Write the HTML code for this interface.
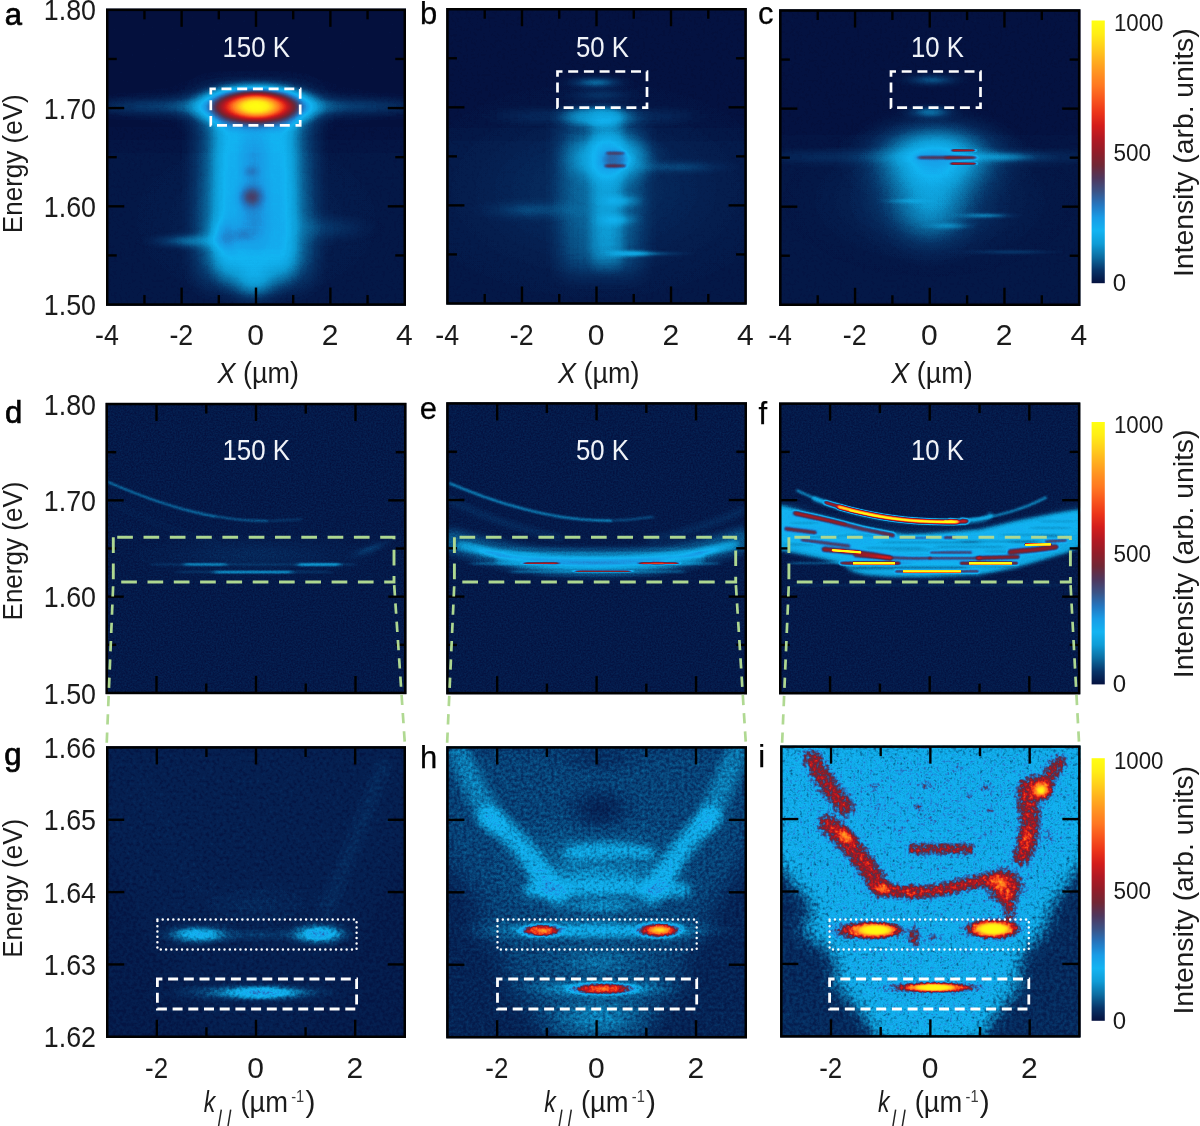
<!DOCTYPE html>
<html><head><meta charset="utf-8"><title>figure</title>
<style>html,body{margin:0;padding:0;background:#fff}svg{display:block}text{font-family:"Liberation Sans",sans-serif;fill:#1a1a1a}</style></head><body>
<svg width="1200" height="1126" viewBox="0 0 1200 1126">
<defs>
<radialGradient id="g"><stop offset="0" stop-color="#fff" stop-opacity="1.0000"/><stop offset="0.05" stop-color="#fff" stop-opacity="0.9883"/><stop offset="0.1" stop-color="#fff" stop-opacity="0.9549"/><stop offset="0.15" stop-color="#fff" stop-opacity="0.9020"/><stop offset="0.2" stop-color="#fff" stop-opacity="0.8331"/><stop offset="0.25" stop-color="#fff" stop-opacity="0.7521"/><stop offset="0.3" stop-color="#fff" stop-opacity="0.6636"/><stop offset="0.35" stop-color="#fff" stop-opacity="0.5723"/><stop offset="0.4" stop-color="#fff" stop-opacity="0.4823"/><stop offset="0.45" stop-color="#fff" stop-opacity="0.3970"/><stop offset="0.5" stop-color="#fff" stop-opacity="0.3191"/><stop offset="0.55" stop-color="#fff" stop-opacity="0.2502"/><stop offset="0.6" stop-color="#fff" stop-opacity="0.1912"/><stop offset="0.65" stop-color="#fff" stop-opacity="0.1422"/><stop offset="0.7" stop-color="#fff" stop-opacity="0.1025"/><stop offset="0.75" stop-color="#fff" stop-opacity="0.0712"/><stop offset="0.8" stop-color="#fff" stop-opacity="0.0473"/><stop offset="0.85" stop-color="#fff" stop-opacity="0.0293"/><stop offset="0.9" stop-color="#fff" stop-opacity="0.0161"/><stop offset="0.95" stop-color="#fff" stop-opacity="0.0067"/><stop offset="1" stop-color="#fff" stop-opacity="0.0000"/></radialGradient>
<radialGradient id="k"><stop offset="0" stop-color="#000" stop-opacity="1.0000"/><stop offset="0.05" stop-color="#000" stop-opacity="0.9883"/><stop offset="0.1" stop-color="#000" stop-opacity="0.9549"/><stop offset="0.15" stop-color="#000" stop-opacity="0.9020"/><stop offset="0.2" stop-color="#000" stop-opacity="0.8331"/><stop offset="0.25" stop-color="#000" stop-opacity="0.7521"/><stop offset="0.3" stop-color="#000" stop-opacity="0.6636"/><stop offset="0.35" stop-color="#000" stop-opacity="0.5723"/><stop offset="0.4" stop-color="#000" stop-opacity="0.4823"/><stop offset="0.45" stop-color="#000" stop-opacity="0.3970"/><stop offset="0.5" stop-color="#000" stop-opacity="0.3191"/><stop offset="0.55" stop-color="#000" stop-opacity="0.2502"/><stop offset="0.6" stop-color="#000" stop-opacity="0.1912"/><stop offset="0.65" stop-color="#000" stop-opacity="0.1422"/><stop offset="0.7" stop-color="#000" stop-opacity="0.1025"/><stop offset="0.75" stop-color="#000" stop-opacity="0.0712"/><stop offset="0.8" stop-color="#000" stop-opacity="0.0473"/><stop offset="0.85" stop-color="#000" stop-opacity="0.0293"/><stop offset="0.9" stop-color="#000" stop-opacity="0.0161"/><stop offset="0.95" stop-color="#000" stop-opacity="0.0067"/><stop offset="1" stop-color="#000" stop-opacity="0.0000"/></radialGradient>
<radialGradient id="p"><stop offset="0" stop-color="#fff" stop-opacity="1.0000"/><stop offset="0.05" stop-color="#fff" stop-opacity="0.9964"/><stop offset="0.1" stop-color="#fff" stop-opacity="0.9927"/><stop offset="0.15" stop-color="#fff" stop-opacity="0.9882"/><stop offset="0.2" stop-color="#fff" stop-opacity="0.9815"/><stop offset="0.25" stop-color="#fff" stop-opacity="0.9696"/><stop offset="0.3" stop-color="#fff" stop-opacity="0.9481"/><stop offset="0.35" stop-color="#fff" stop-opacity="0.9115"/><stop offset="0.4" stop-color="#fff" stop-opacity="0.8548"/><stop offset="0.45" stop-color="#fff" stop-opacity="0.7758"/><stop offset="0.5" stop-color="#fff" stop-opacity="0.6773"/><stop offset="0.55" stop-color="#fff" stop-opacity="0.5675"/><stop offset="0.6" stop-color="#fff" stop-opacity="0.4568"/><stop offset="0.65" stop-color="#fff" stop-opacity="0.3545"/><stop offset="0.7" stop-color="#fff" stop-opacity="0.2659"/><stop offset="0.75" stop-color="#fff" stop-opacity="0.1928"/><stop offset="0.8" stop-color="#fff" stop-opacity="0.1342"/><stop offset="0.85" stop-color="#fff" stop-opacity="0.0879"/><stop offset="0.9" stop-color="#fff" stop-opacity="0.0516"/><stop offset="0.95" stop-color="#fff" stop-opacity="0.0229"/><stop offset="1" stop-color="#fff" stop-opacity="0.0000"/></radialGradient>
<filter id="cm0" x="0" y="0" width="1" height="1" color-interpolation-filters="sRGB"><feComponentTransfer><feFuncR type="table" tableValues="0.016 0.027 0.043 0.055 0.071 0.094 0.141 0.227 0.306 0.439 0.573 0.698 0.831 0.925 0.973 1.000 1.000 1.000 1.000 1.000 1.000"/><feFuncG type="table" tableValues="0.063 0.204 0.424 0.612 0.706 0.612 0.455 0.322 0.212 0.149 0.110 0.094 0.110 0.204 0.329 0.463 0.573 0.690 0.816 0.933 1.000"/><feFuncB type="table" tableValues="0.243 0.408 0.635 0.839 0.949 0.902 0.745 0.525 0.361 0.204 0.157 0.133 0.102 0.094 0.110 0.125 0.125 0.118 0.102 0.078 0.063"/></feComponentTransfer></filter>
<filter id="cm1" x="0" y="0" width="1" height="1" color-interpolation-filters="sRGB"><feTurbulence type="fractalNoise" baseFrequency="0.35" numOctaves="2" seed="3" result="t"/><feColorMatrix in="t" type="matrix" values="1 0 0 0 0  1 0 0 0 0  1 0 0 0 0  0 0 0 0 1" result="n"/><feComposite in="SourceGraphic" in2="n" operator="arithmetic" k1="0" k2="1" k3="0.01" k4="-0.0060" result="m"/><feComponentTransfer in="m"><feFuncR type="table" tableValues="0.016 0.027 0.043 0.055 0.071 0.094 0.141 0.227 0.306 0.439 0.573 0.698 0.831 0.925 0.973 1.000 1.000 1.000 1.000 1.000 1.000"/><feFuncG type="table" tableValues="0.063 0.204 0.424 0.612 0.706 0.612 0.455 0.322 0.212 0.149 0.110 0.094 0.110 0.204 0.329 0.463 0.573 0.690 0.816 0.933 1.000"/><feFuncB type="table" tableValues="0.243 0.408 0.635 0.839 0.949 0.902 0.745 0.525 0.361 0.204 0.157 0.133 0.102 0.094 0.110 0.125 0.125 0.118 0.102 0.078 0.063"/></feComponentTransfer></filter>
<filter id="cm2" x="0" y="0" width="1" height="1" color-interpolation-filters="sRGB"><feTurbulence type="fractalNoise" baseFrequency="0.6" numOctaves="2" seed="5" result="t"/><feColorMatrix in="t" type="matrix" values="1 0 0 0 0  1 0 0 0 0  1 0 0 0 0  0 0 0 0 1" result="n"/><feComposite in="SourceGraphic" in2="n" operator="arithmetic" k1="0" k2="1" k3="0.04" k4="-0.0180" result="m"/><feComponentTransfer in="m"><feFuncR type="table" tableValues="0.016 0.027 0.043 0.055 0.071 0.094 0.141 0.227 0.306 0.439 0.573 0.698 0.831 0.925 0.973 1.000 1.000 1.000 1.000 1.000 1.000"/><feFuncG type="table" tableValues="0.063 0.204 0.424 0.612 0.706 0.612 0.455 0.322 0.212 0.149 0.110 0.094 0.110 0.204 0.329 0.463 0.573 0.690 0.816 0.933 1.000"/><feFuncB type="table" tableValues="0.243 0.408 0.635 0.839 0.949 0.902 0.745 0.525 0.361 0.204 0.157 0.133 0.102 0.094 0.110 0.125 0.125 0.118 0.102 0.078 0.063"/></feComponentTransfer></filter>
<filter id="cmg" x="0" y="0" width="1" height="1" color-interpolation-filters="sRGB"><feTurbulence type="fractalNoise" baseFrequency="0.3" numOctaves="2" seed="7" result="t"/><feColorMatrix in="t" type="matrix" values="1 0 0 0 0  1 0 0 0 0  1 0 0 0 0  0 0 0 0 1" result="n"/><feComponentTransfer in="SourceGraphic" result="w"><feFuncR type="table" tableValues="0.03 0.14 0.27 0.36 0.42 0.45 0.42 0.3 0.15 0.04 0"/><feFuncG type="table" tableValues="0.03 0.14 0.27 0.36 0.42 0.45 0.42 0.3 0.15 0.04 0"/><feFuncB type="table" tableValues="0.03 0.14 0.27 0.36 0.42 0.45 0.42 0.3 0.15 0.04 0"/></feComponentTransfer><feComposite in="w" in2="n" operator="arithmetic" k1="1" k2="0" k3="0" k4="0" result="p"/><feComposite in="SourceGraphic" in2="w" operator="arithmetic" k1="0" k2="1" k3="-0.4" k4="0" result="q"/><feComposite in="q" in2="p" operator="arithmetic" k1="0" k2="1" k3="0.8" k4="0" result="m"/><feComponentTransfer in="m"><feFuncR type="table" tableValues="0.016 0.027 0.043 0.055 0.071 0.094 0.141 0.227 0.306 0.439 0.573 0.698 0.831 0.925 0.973 1.000 1.000 1.000 1.000 1.000 1.000"/><feFuncG type="table" tableValues="0.063 0.204 0.424 0.612 0.706 0.612 0.455 0.322 0.212 0.149 0.110 0.094 0.110 0.204 0.329 0.463 0.573 0.690 0.816 0.933 1.000"/><feFuncB type="table" tableValues="0.243 0.408 0.635 0.839 0.949 0.902 0.745 0.525 0.361 0.204 0.157 0.133 0.102 0.094 0.110 0.125 0.125 0.118 0.102 0.078 0.063"/></feComponentTransfer></filter>
<filter id="cmh" x="0" y="0" width="1" height="1" color-interpolation-filters="sRGB"><feTurbulence type="fractalNoise" baseFrequency="0.33" numOctaves="2" seed="11" result="t"/><feColorMatrix in="t" type="matrix" values="1 0 0 0 0  1 0 0 0 0  1 0 0 0 0  0 0 0 0 1" result="n"/><feComponentTransfer in="SourceGraphic" result="w"><feFuncR type="table" tableValues="0.04 0.13 0.27 0.36 0.42 0.45 0.42 0.3 0.15 0.04 0"/><feFuncG type="table" tableValues="0.04 0.13 0.27 0.36 0.42 0.45 0.42 0.3 0.15 0.04 0"/><feFuncB type="table" tableValues="0.04 0.13 0.27 0.36 0.42 0.45 0.42 0.3 0.15 0.04 0"/></feComponentTransfer><feComposite in="w" in2="n" operator="arithmetic" k1="1" k2="0" k3="0" k4="0" result="p"/><feComposite in="SourceGraphic" in2="w" operator="arithmetic" k1="0" k2="1" k3="-0.45" k4="0" result="q"/><feComposite in="q" in2="p" operator="arithmetic" k1="0" k2="1" k3="0.9" k4="0" result="m"/><feComponentTransfer in="m"><feFuncR type="table" tableValues="0.016 0.027 0.043 0.055 0.071 0.094 0.141 0.227 0.306 0.439 0.573 0.698 0.831 0.925 0.973 1.000 1.000 1.000 1.000 1.000 1.000"/><feFuncG type="table" tableValues="0.063 0.204 0.424 0.612 0.706 0.612 0.455 0.322 0.212 0.149 0.110 0.094 0.110 0.204 0.329 0.463 0.573 0.690 0.816 0.933 1.000"/><feFuncB type="table" tableValues="0.243 0.408 0.635 0.839 0.949 0.902 0.745 0.525 0.361 0.204 0.157 0.133 0.102 0.094 0.110 0.125 0.125 0.118 0.102 0.078 0.063"/></feComponentTransfer></filter>
<filter id="cmi" x="0" y="0" width="1" height="1" color-interpolation-filters="sRGB"><feTurbulence type="fractalNoise" baseFrequency="0.3" numOctaves="2" seed="13" result="t"/><feColorMatrix in="t" type="matrix" values="1 0 0 0 0  1 0 0 0 0  1 0 0 0 0  0 0 0 0 1" result="n"/><feComponentTransfer in="SourceGraphic" result="w"><feFuncR type="table" tableValues="0.04 0.13 0.27 0.36 0.42 0.45 0.42 0.3 0.15 0.04 0"/><feFuncG type="table" tableValues="0.04 0.13 0.27 0.36 0.42 0.45 0.42 0.3 0.15 0.04 0"/><feFuncB type="table" tableValues="0.04 0.13 0.27 0.36 0.42 0.45 0.42 0.3 0.15 0.04 0"/></feComponentTransfer><feComposite in="w" in2="n" operator="arithmetic" k1="1" k2="0" k3="0" k4="0" result="p"/><feComposite in="SourceGraphic" in2="w" operator="arithmetic" k1="0" k2="1" k3="-0.6" k4="0" result="q"/><feComposite in="q" in2="p" operator="arithmetic" k1="0" k2="1" k3="1.2" k4="0" result="m"/><feComponentTransfer in="m"><feFuncR type="table" tableValues="0.016 0.027 0.043 0.055 0.071 0.094 0.141 0.227 0.306 0.439 0.573 0.698 0.831 0.925 0.973 1.000 1.000 1.000 1.000 1.000 1.000"/><feFuncG type="table" tableValues="0.063 0.204 0.424 0.612 0.706 0.612 0.455 0.322 0.212 0.149 0.110 0.094 0.110 0.204 0.329 0.463 0.573 0.690 0.816 0.933 1.000"/><feFuncB type="table" tableValues="0.243 0.408 0.635 0.839 0.949 0.902 0.745 0.525 0.361 0.204 0.157 0.133 0.102 0.094 0.110 0.125 0.125 0.118 0.102 0.078 0.063"/></feComponentTransfer></filter>
<filter id="b1" filterUnits="userSpaceOnUse" x="0" y="0" width="1200" height="1126" color-interpolation-filters="sRGB"><feGaussianBlur stdDeviation="1 1"/></filter>
<filter id="b2" filterUnits="userSpaceOnUse" x="0" y="0" width="1200" height="1126" color-interpolation-filters="sRGB"><feGaussianBlur stdDeviation="2 2"/></filter>
<filter id="b3" filterUnits="userSpaceOnUse" x="0" y="0" width="1200" height="1126" color-interpolation-filters="sRGB"><feGaussianBlur stdDeviation="3 3"/></filter>
<filter id="b4" filterUnits="userSpaceOnUse" x="0" y="0" width="1200" height="1126" color-interpolation-filters="sRGB"><feGaussianBlur stdDeviation="4 4"/></filter>
<filter id="b6" filterUnits="userSpaceOnUse" x="0" y="0" width="1200" height="1126" color-interpolation-filters="sRGB"><feGaussianBlur stdDeviation="6 6"/></filter>
<filter id="b8" filterUnits="userSpaceOnUse" x="0" y="0" width="1200" height="1126" color-interpolation-filters="sRGB"><feGaussianBlur stdDeviation="8 8"/></filter>
<filter id="b12" filterUnits="userSpaceOnUse" x="0" y="0" width="1200" height="1126" color-interpolation-filters="sRGB"><feGaussianBlur stdDeviation="12 12"/></filter>
<filter id="bx" filterUnits="userSpaceOnUse" x="0" y="0" width="1200" height="1126" color-interpolation-filters="sRGB"><feGaussianBlur stdDeviation="6 1.2"/></filter>
<filter id="bx2" filterUnits="userSpaceOnUse" x="0" y="0" width="1200" height="1126" color-interpolation-filters="sRGB"><feGaussianBlur stdDeviation="10 2"/></filter>
<filter id="by" filterUnits="userSpaceOnUse" x="0" y="0" width="1200" height="1126" color-interpolation-filters="sRGB"><feGaussianBlur stdDeviation="3 8"/></filter>
<filter id="bxs" filterUnits="userSpaceOnUse" x="0" y="0" width="1200" height="1126" color-interpolation-filters="sRGB"><feGaussianBlur stdDeviation="3 0.8"/></filter>
<filter id="b16" filterUnits="userSpaceOnUse" x="0" y="0" width="1200" height="1126" color-interpolation-filters="sRGB"><feGaussianBlur stdDeviation="16 16"/></filter>
<filter id="bw" filterUnits="userSpaceOnUse" x="0" y="0" width="1200" height="1126" color-interpolation-filters="sRGB"><feGaussianBlur stdDeviation="14 4"/></filter>
<filter id="b5" filterUnits="userSpaceOnUse" x="0" y="0" width="1200" height="1126" color-interpolation-filters="sRGB"><feGaussianBlur stdDeviation="5 5"/></filter>
<filter id="bc" filterUnits="userSpaceOnUse" x="0" y="0" width="1200" height="1126" color-interpolation-filters="sRGB"><feGaussianBlur stdDeviation="2.5 10"/></filter>
<linearGradient id="cb" x1="0" y1="0" x2="0" y2="1"><stop offset="0" stop-color="rgb(255,255,16)"/><stop offset="0.05" stop-color="rgb(255,238,20)"/><stop offset="0.1" stop-color="rgb(255,208,26)"/><stop offset="0.15" stop-color="rgb(255,176,30)"/><stop offset="0.2" stop-color="rgb(255,146,32)"/><stop offset="0.25" stop-color="rgb(255,118,32)"/><stop offset="0.3" stop-color="rgb(248,84,28)"/><stop offset="0.35" stop-color="rgb(236,52,24)"/><stop offset="0.4" stop-color="rgb(212,28,26)"/><stop offset="0.45" stop-color="rgb(178,24,34)"/><stop offset="0.5" stop-color="rgb(146,28,40)"/><stop offset="0.55" stop-color="rgb(112,38,52)"/><stop offset="0.6" stop-color="rgb(78,54,92)"/><stop offset="0.65" stop-color="rgb(58,82,134)"/><stop offset="0.7" stop-color="rgb(36,116,190)"/><stop offset="0.75" stop-color="rgb(24,156,230)"/><stop offset="0.8" stop-color="rgb(18,180,242)"/><stop offset="0.85" stop-color="rgb(14,156,214)"/><stop offset="0.9" stop-color="rgb(11,108,162)"/><stop offset="0.95" stop-color="rgb(7,52,104)"/><stop offset="1" stop-color="rgb(4,16,62)"/></linearGradient>
<clipPath id="cpa"><rect x="106" y="8.6" width="300" height="297.2"/></clipPath>
<clipPath id="cpb"><rect x="446.2" y="8" width="300.6" height="296.7"/></clipPath>
<clipPath id="cpc"><rect x="779.1" y="9.3" width="301.3" height="296.7"/></clipPath>
<clipPath id="cpd"><rect x="105.5" y="402.8" width="301" height="291.4"/></clipPath>
<clipPath id="cpe"><rect x="446.2" y="402.2" width="300.8" height="292.2"/></clipPath>
<clipPath id="cpf"><rect x="779" y="402.4" width="301.4" height="292"/></clipPath>
<clipPath id="cpg"><rect x="106" y="746.2" width="300" height="291.8"/></clipPath>
<clipPath id="cph"><rect x="446.2" y="746.2" width="300.8" height="292.2"/></clipPath>
<clipPath id="cpi"><rect x="780.1" y="745.4" width="300.5" height="292.2"/></clipPath>
<filter id="B1_14" filterUnits="userSpaceOnUse" x="0" y="0" width="1200" height="1126" color-interpolation-filters="sRGB"><feGaussianBlur stdDeviation="1 14"/></filter><filter id="B24_4p5" filterUnits="userSpaceOnUse" x="0" y="0" width="1200" height="1126" color-interpolation-filters="sRGB"><feGaussianBlur stdDeviation="24 4.5"/></filter><filter id="B12_15" filterUnits="userSpaceOnUse" x="0" y="0" width="1200" height="1126" color-interpolation-filters="sRGB"><feGaussianBlur stdDeviation="12 15"/></filter><filter id="B7_13" filterUnits="userSpaceOnUse" x="0" y="0" width="1200" height="1126" color-interpolation-filters="sRGB"><feGaussianBlur stdDeviation="7 13"/></filter><filter id="B6_10" filterUnits="userSpaceOnUse" x="0" y="0" width="1200" height="1126" color-interpolation-filters="sRGB"><feGaussianBlur stdDeviation="6 10"/></filter><filter id="B20_5" filterUnits="userSpaceOnUse" x="0" y="0" width="1200" height="1126" color-interpolation-filters="sRGB"><feGaussianBlur stdDeviation="20 5"/></filter><filter id="B11_12" filterUnits="userSpaceOnUse" x="0" y="0" width="1200" height="1126" color-interpolation-filters="sRGB"><feGaussianBlur stdDeviation="11 12"/></filter><filter id="B1p5_0p8" filterUnits="userSpaceOnUse" x="0" y="0" width="1200" height="1126" color-interpolation-filters="sRGB"><feGaussianBlur stdDeviation="1.5 0.8"/></filter><filter id="B20_4" filterUnits="userSpaceOnUse" x="0" y="0" width="1200" height="1126" color-interpolation-filters="sRGB"><feGaussianBlur stdDeviation="20 4"/></filter><filter id="B2_0p8" filterUnits="userSpaceOnUse" x="0" y="0" width="1200" height="1126" color-interpolation-filters="sRGB"><feGaussianBlur stdDeviation="2 0.8"/></filter><filter id="B1p5_0p7" filterUnits="userSpaceOnUse" x="0" y="0" width="1200" height="1126" color-interpolation-filters="sRGB"><feGaussianBlur stdDeviation="1.5 0.7"/></filter><filter id="B1_1" filterUnits="userSpaceOnUse" x="0" y="0" width="1200" height="1126" color-interpolation-filters="sRGB"><feGaussianBlur stdDeviation="1 1"/></filter><filter id="B2_1" filterUnits="userSpaceOnUse" x="0" y="0" width="1200" height="1126" color-interpolation-filters="sRGB"><feGaussianBlur stdDeviation="2 1"/></filter><filter id="B3_3" filterUnits="userSpaceOnUse" x="0" y="0" width="1200" height="1126" color-interpolation-filters="sRGB"><feGaussianBlur stdDeviation="3 3"/></filter><filter id="B3_0p8" filterUnits="userSpaceOnUse" x="0" y="0" width="1200" height="1126" color-interpolation-filters="sRGB"><feGaussianBlur stdDeviation="3 0.8"/></filter><filter id="B4_4" filterUnits="userSpaceOnUse" x="0" y="0" width="1200" height="1126" color-interpolation-filters="sRGB"><feGaussianBlur stdDeviation="4 4"/></filter><filter id="B3_1p5" filterUnits="userSpaceOnUse" x="0" y="0" width="1200" height="1126" color-interpolation-filters="sRGB"><feGaussianBlur stdDeviation="3 1.5"/></filter><filter id="B2_2" filterUnits="userSpaceOnUse" x="0" y="0" width="1200" height="1126" color-interpolation-filters="sRGB"><feGaussianBlur stdDeviation="2 2"/></filter><filter id="B8_0p8" filterUnits="userSpaceOnUse" x="0" y="0" width="1200" height="1126" color-interpolation-filters="sRGB"><feGaussianBlur stdDeviation="8 0.8"/></filter><filter id="B2_0p7" filterUnits="userSpaceOnUse" x="0" y="0" width="1200" height="1126" color-interpolation-filters="sRGB"><feGaussianBlur stdDeviation="2 0.7"/></filter><filter id="B2p5_2" filterUnits="userSpaceOnUse" x="0" y="0" width="1200" height="1126" color-interpolation-filters="sRGB"><feGaussianBlur stdDeviation="2.5 2"/></filter><filter id="B5_5" filterUnits="userSpaceOnUse" x="0" y="0" width="1200" height="1126" color-interpolation-filters="sRGB"><feGaussianBlur stdDeviation="5 5"/></filter><filter id="B1p6_1p6" filterUnits="userSpaceOnUse" x="0" y="0" width="1200" height="1126" color-interpolation-filters="sRGB"><feGaussianBlur stdDeviation="1.6 1.6"/></filter><filter id="B4_0p8" filterUnits="userSpaceOnUse" x="0" y="0" width="1200" height="1126" color-interpolation-filters="sRGB"><feGaussianBlur stdDeviation="4 0.8"/></filter><filter id="B5_1" filterUnits="userSpaceOnUse" x="0" y="0" width="1200" height="1126" color-interpolation-filters="sRGB"><feGaussianBlur stdDeviation="5 1"/></filter><filter id="B0p8_0p8" filterUnits="userSpaceOnUse" x="0" y="0" width="1200" height="1126" color-interpolation-filters="sRGB"><feGaussianBlur stdDeviation="0.8 0.8"/></filter><filter id="B0p6_0p6" filterUnits="userSpaceOnUse" x="0" y="0" width="1200" height="1126" color-interpolation-filters="sRGB"><feGaussianBlur stdDeviation="0.6 0.6"/></filter><filter id="B1p1_1p1" filterUnits="userSpaceOnUse" x="0" y="0" width="1200" height="1126" color-interpolation-filters="sRGB"><feGaussianBlur stdDeviation="1.1 1.1"/></filter><filter id="B0p7_0p7" filterUnits="userSpaceOnUse" x="0" y="0" width="1200" height="1126" color-interpolation-filters="sRGB"><feGaussianBlur stdDeviation="0.7 0.7"/></filter><filter id="B1p2_1p2" filterUnits="userSpaceOnUse" x="0" y="0" width="1200" height="1126" color-interpolation-filters="sRGB"><feGaussianBlur stdDeviation="1.2 1.2"/></filter><filter id="B16_16" filterUnits="userSpaceOnUse" x="0" y="0" width="1200" height="1126" color-interpolation-filters="sRGB"><feGaussianBlur stdDeviation="16 16"/></filter><filter id="B9_9" filterUnits="userSpaceOnUse" x="0" y="0" width="1200" height="1126" color-interpolation-filters="sRGB"><feGaussianBlur stdDeviation="9 9"/></filter><filter id="B14_14" filterUnits="userSpaceOnUse" x="0" y="0" width="1200" height="1126" color-interpolation-filters="sRGB"><feGaussianBlur stdDeviation="14 14"/></filter><filter id="B6_6" filterUnits="userSpaceOnUse" x="0" y="0" width="1200" height="1126" color-interpolation-filters="sRGB"><feGaussianBlur stdDeviation="6 6"/></filter><filter id="B5p5_5p5" filterUnits="userSpaceOnUse" x="0" y="0" width="1200" height="1126" color-interpolation-filters="sRGB"><feGaussianBlur stdDeviation="5.5 5.5"/></filter><filter id="B4p5_4p5" filterUnits="userSpaceOnUse" x="0" y="0" width="1200" height="1126" color-interpolation-filters="sRGB"><feGaussianBlur stdDeviation="4.5 4.5"/></filter><filter id="B11_11" filterUnits="userSpaceOnUse" x="0" y="0" width="1200" height="1126" color-interpolation-filters="sRGB"><feGaussianBlur stdDeviation="11 11"/></filter><filter id="B3p5_3p5" filterUnits="userSpaceOnUse" x="0" y="0" width="1200" height="1126" color-interpolation-filters="sRGB"><feGaussianBlur stdDeviation="3.5 3.5"/></filter><filter id="B2p8_2p8" filterUnits="userSpaceOnUse" x="0" y="0" width="1200" height="1126" color-interpolation-filters="sRGB"><feGaussianBlur stdDeviation="2.8 2.8"/></filter><filter id="B2p5_2p5" filterUnits="userSpaceOnUse" x="0" y="0" width="1200" height="1126" color-interpolation-filters="sRGB"><feGaussianBlur stdDeviation="2.5 2.5"/></filter>
</defs>
<g clip-path="url(#cpa)"><g filter="url(#cm1)">
<rect x="106" y="8.6" width="300" height="297.2" fill="rgb(0,0,0)"/>
<rect x="96" y="140" width="330" height="180" fill="#fff" fill-opacity="0.01" filter="url(#B1_14)"/>
<ellipse cx="256" cy="220" rx="170" ry="110" fill="url(#g)" fill-opacity="0.02"/>
<rect x="96" y="100.5" width="320" height="12" fill="#fff" fill-opacity="0.05" filter="url(#B24_4p5)"/>
<ellipse cx="256" cy="106.5" rx="170" ry="28" fill="url(#g)" fill-opacity="0.07"/>
<rect x="200" y="100" width="110" height="179" fill="#fff" fill-opacity="0.1" filter="url(#B12_15)"/>
<rect x="217" y="100" width="76" height="174" fill="#fff" fill-opacity="0.11" filter="url(#B7_13)"/>
<ellipse cx="254" cy="283" rx="42" ry="34" fill="url(#g)" fill-opacity="0.09"/>
<ellipse cx="224" cy="236" rx="30" ry="30" fill="url(#g)" fill-opacity="0.08"/>
<ellipse cx="188" cy="241" rx="62" ry="13" fill="url(#g)" fill-opacity="0.07"/>
<ellipse cx="330" cy="228" rx="70" ry="24" fill="url(#g)" fill-opacity="0.03"/>
<rect x="242" y="135" width="24" height="108" fill="#fff" fill-opacity="0.06" filter="url(#B6_10)"/>
<ellipse cx="251.5" cy="197" rx="22" ry="20" fill="url(#g)" fill-opacity="0.17"/>
<ellipse cx="251" cy="171.5" rx="16" ry="12" fill="url(#g)" fill-opacity="0.05"/>
<ellipse cx="243" cy="235" rx="20" ry="13" fill="url(#g)" fill-opacity="0.05"/>
<ellipse cx="256" cy="106.3" rx="110" ry="40" fill="url(#g)" fill-opacity="0.12"/>
<ellipse cx="256" cy="106.3" rx="74" ry="29" fill="url(#g)" fill-opacity="0.95"/>
<ellipse cx="256" cy="106.3" rx="32" ry="16" fill="url(#g)" fill-opacity="0.9"/>
</g></g>
<g clip-path="url(#cpb)"><g filter="url(#cm1)">
<rect x="446.2" y="8" width="300.6" height="296.7" fill="rgb(1,1,1)"/>
<rect x="436" y="128" width="330" height="190" fill="#fff" fill-opacity="0.01" filter="url(#B1_14)"/>
<ellipse cx="596" cy="190" rx="240" ry="140" fill="url(#g)" fill-opacity="0.03"/>
<ellipse cx="596" cy="82.5" rx="44" ry="10" fill="url(#g)" fill-opacity="0.09"/>
<ellipse cx="600" cy="95" rx="55" ry="12" fill="url(#g)" fill-opacity="0.04"/>
<rect x="500" y="110" width="190" height="12" fill="#fff" fill-opacity="0.03" filter="url(#B20_5)"/>
<rect x="560" y="114" width="82" height="160" fill="#fff" fill-opacity="0.06" filter="url(#B11_12)"/>
<rect x="592" y="114" width="29" height="150" fill="#fff" fill-opacity="0.07" filter="url(#B6_10)"/>
<ellipse cx="597" cy="116.5" rx="50" ry="16" fill="url(#p)" fill-opacity="0.09"/>
<ellipse cx="611" cy="158" rx="62" ry="34" fill="url(#p)" fill-opacity="0.09"/>
<ellipse cx="680" cy="167" rx="75" ry="11" fill="url(#g)" fill-opacity="0.04"/>
<ellipse cx="622" cy="201" rx="34" ry="11" fill="url(#g)" fill-opacity="0.06"/>
<ellipse cx="617" cy="220" rx="34" ry="11" fill="url(#g)" fill-opacity="0.06"/>
<ellipse cx="530" cy="210" rx="75" ry="16" fill="url(#g)" fill-opacity="0.04"/>
<ellipse cx="632" cy="253.6" rx="42" ry="6.5" fill="url(#g)" fill-opacity="0.1"/>
<ellipse cx="655" cy="253.6" rx="55" ry="4.5" fill="url(#g)" fill-opacity="0.04"/>
<ellipse cx="616" cy="159.5" rx="21" ry="14" fill="url(#p)" fill-opacity="0.12"/>
<rect x="606" y="152" width="19" height="2.2" fill="#fff" fill-opacity="0.2" filter="url(#B1p5_0p8)"/>
<rect x="605" y="164.8" width="21" height="2.4" fill="#fff" fill-opacity="0.26" filter="url(#B1p5_0p8)"/>
</g></g>
<g clip-path="url(#cpc)"><g filter="url(#cm1)">
<rect x="779.1" y="9.3" width="301.3" height="296.7" fill="rgb(1,1,1)"/>
<rect x="770" y="135" width="330" height="180" fill="#fff" fill-opacity="0.01" filter="url(#B1_14)"/>
<ellipse cx="932" cy="80" rx="44" ry="10" fill="url(#g)" fill-opacity="0.07"/>
<ellipse cx="930" cy="112" rx="38" ry="11" fill="url(#g)" fill-opacity="0.09"/>
<rect x="770" y="153.5" width="320" height="7" fill="#fff" fill-opacity="0.04" filter="url(#B20_4)"/>
<ellipse cx="930" cy="200" rx="190" ry="100" fill="url(#g)" fill-opacity="0.03"/>
<ellipse cx="936" cy="156" rx="106" ry="58" fill="url(#g)" fill-opacity="0.18"/>
<ellipse cx="930" cy="192" rx="92" ry="84" fill="url(#g)" fill-opacity="0.09"/>
<ellipse cx="930" cy="215" rx="60" ry="60" fill="url(#g)" fill-opacity="0.04"/>
<ellipse cx="1005" cy="157" rx="60" ry="9" fill="url(#g)" fill-opacity="0.07"/>
<ellipse cx="906" cy="201" rx="40" ry="5" fill="url(#g)" fill-opacity="0.04"/>
<ellipse cx="986" cy="215.6" rx="44" ry="5" fill="url(#g)" fill-opacity="0.08"/>
<ellipse cx="950" cy="226" rx="36" ry="6" fill="url(#g)" fill-opacity="0.05"/>
<ellipse cx="1012" cy="252" rx="80" ry="4.5" fill="url(#g)" fill-opacity="0.04"/>
<rect x="918" y="156.4" width="58" height="2.4" fill="#fff" fill-opacity="0.3" filter="url(#B2_0p8)"/>
<rect x="945" y="156.4" width="31" height="2.4" fill="#fff" fill-opacity="0.2" filter="url(#B2_0p8)"/>
<rect x="952" y="149.3" width="23" height="2.2" fill="#fff" fill-opacity="0.44" filter="url(#B1p5_0p7)"/>
<rect x="951" y="162.5" width="25" height="2.2" fill="#fff" fill-opacity="0.44" filter="url(#B1p5_0p7)"/>
</g></g>
<g clip-path="url(#cpd)"><g filter="url(#cm2)">
<rect x="105.5" y="402.8" width="301" height="291.4" fill="rgb(3,3,3)"/>
<path d="M108 482 Q 200 522 268 520.8" fill="none" stroke="#fff" stroke-opacity="0.09" stroke-width="2.3" stroke-linecap="butt" filter="url(#B1_1)"/>
<path d="M268 520.8 L 302 519.4" fill="none" stroke="#fff" stroke-opacity="0.05" stroke-width="2.2" stroke-linecap="butt" filter="url(#B2_1)"/>
<path d="M108 482 Q 170 510 215 517" fill="none" stroke="#fff" stroke-opacity="0.03" stroke-width="3" stroke-linecap="round" filter="url(#B1_1)"/>
<path d="M108 500 Q 160 528 220 545" fill="none" stroke="#fff" stroke-opacity="0.01" stroke-width="8" stroke-linecap="round" filter="url(#B3_3)"/>
<ellipse cx="256" cy="555" rx="170" ry="28" fill="url(#g)" fill-opacity="0.02"/>
<ellipse cx="370" cy="549" rx="34" ry="8" fill="url(#g)" fill-opacity="0.04" transform="rotate(-20 370 549)"/>
<rect x="150" y="563.6" width="206" height="1.8" fill="#fff" fill-opacity="0.05" filter="url(#B3_0p8)"/>
<rect x="184" y="563.4" width="42" height="2.2" fill="#fff" fill-opacity="0.12" filter="url(#B3_0p8)"/>
<rect x="298" y="563.4" width="42" height="2.4" fill="#fff" fill-opacity="0.15" filter="url(#B3_0p8)"/>
<rect x="176" y="571.2" width="156" height="1.8" fill="#fff" fill-opacity="0.05" filter="url(#B3_0p8)"/>
<rect x="214" y="571" width="78" height="2.2" fill="#fff" fill-opacity="0.13" filter="url(#B3_0p8)"/>
</g></g>
<g clip-path="url(#cpe)"><g filter="url(#cm2)">
<rect x="446.2" y="402.2" width="300.8" height="292.2" fill="rgb(3,3,3)"/>
<path d="M449 483 Q 540 522 612 520.6" fill="none" stroke="#fff" stroke-opacity="0.12" stroke-width="2.6" stroke-linecap="butt" filter="url(#B1_1)"/>
<path d="M612 520.6 Q 632 520 654 516.8" fill="none" stroke="#fff" stroke-opacity="0.07" stroke-width="2.4" stroke-linecap="butt" filter="url(#B2_1)"/>
<path d="M449 500 Q 500 525 560 538" fill="none" stroke="#fff" stroke-opacity="0.03" stroke-width="7" stroke-linecap="round" filter="url(#B3_3)"/>
<path d="M744 510 Q 700 530 650 540" fill="none" stroke="#fff" stroke-opacity="0.03" stroke-width="7" stroke-linecap="round" filter="url(#B3_3)"/>
<path d="M452 541 Q 596 586 742 540" fill="none" stroke="#fff" stroke-opacity="0.07" stroke-width="24" stroke-linecap="round" filter="url(#B4_4)"/>
<path d="M462 546 Q 596 577 734 545" fill="none" stroke="#fff" stroke-opacity="0.07" stroke-width="9" stroke-linecap="round" filter="url(#B3_1p5)"/>
<path d="M480 551 Q 596 574 716 550" fill="none" stroke="#fff" stroke-opacity="0.04" stroke-width="3" stroke-linecap="round" filter="url(#B2_1)"/>
<path d="M500 559 Q 596 571 700 558" fill="none" stroke="#fff" stroke-opacity="0.05" stroke-width="10" stroke-linecap="round" filter="url(#B2_2)"/>
<rect x="470" y="562.6" width="250" height="2.2" fill="#fff" fill-opacity="0.07" filter="url(#B3_0p8)"/>
<rect x="510" y="570.6" width="175" height="2.4" fill="#fff" fill-opacity="0.07" filter="url(#B3_0p8)"/>
<rect x="520" y="553" width="150" height="1.6" fill="#fff" fill-opacity="0.04" filter="url(#B3_0p8)"/>
<rect x="530" y="558" width="130" height="1.6" fill="#fff" fill-opacity="0.04" filter="url(#B3_0p8)"/>
<rect x="540" y="566.5" width="120" height="1.4" fill="#fff" fill-opacity="0.03" filter="url(#B3_0p8)"/>
<ellipse cx="596" cy="561" rx="150" ry="22" fill="url(#g)" fill-opacity="0.05"/>
<rect x="505" y="547.5" width="180" height="1.7" fill="#fff" fill-opacity="0.04" filter="url(#B8_0p8)"/>
<rect x="490" y="551.5" width="215" height="1.7" fill="#fff" fill-opacity="0.05" filter="url(#B8_0p8)"/>
<rect x="480" y="555.5" width="235" height="1.7" fill="#fff" fill-opacity="0.04" filter="url(#B8_0p8)"/>
<rect x="500" y="559.5" width="195" height="1.7" fill="#fff" fill-opacity="0.04" filter="url(#B8_0p8)"/>
<rect x="515" y="566.8" width="165" height="1.7" fill="#fff" fill-opacity="0.05" filter="url(#B8_0p8)"/>
<rect x="535" y="574.5" width="125" height="1.7" fill="#fff" fill-opacity="0.04" filter="url(#B8_0p8)"/>
<ellipse cx="492" cy="553" rx="38" ry="7" fill="url(#g)" fill-opacity="0.07" transform="rotate(14 492 553)"/>
<ellipse cx="704" cy="552" rx="38" ry="7" fill="url(#g)" fill-opacity="0.07" transform="rotate(-14 704 552)"/>
<rect x="524" y="562.4" width="34" height="1.8" fill="#fff" fill-opacity="0.42" filter="url(#B2_0p7)"/>
<rect x="640" y="562.4" width="38" height="1.8" fill="#fff" fill-opacity="0.5" filter="url(#B2_0p7)"/>
<rect x="652" y="562.4" width="12" height="1.6" fill="#fff" fill-opacity="0.3" filter="url(#B1_1)"/>
<rect x="575" y="570.4" width="56" height="1.7" fill="#fff" fill-opacity="0.4" filter="url(#B2_0p7)"/>
</g></g>
<g clip-path="url(#cpf)"><g filter="url(#cm2)">
<rect x="779" y="402.4" width="301.4" height="292" fill="rgb(3,3,3)"/>
<path d="M774 504 L817 515 L867 530 L905 535 L930 534 L980 530 L1017 521 L1055 513.7 L1086 509 L1086 544 L1067 552.5 L1042 560 L1017 567.5 L980 575 L930 577 L890 576.8 L866 575 L852 571.5 L846 567 L842 563 L817 557.5 L774 549 Z" fill="#fff" fill-opacity="0.17" filter="url(#B2p5_2)"/>
<path d="M779 500 Q 860 530 930 530 T 1081 504 L1081 530 Q 1000 570 930 570 T 779 540 Z" fill="#fff" fill-opacity="0.04" filter="url(#B5_5)"/>
<path d="M797 490.5 Q 862 521.5 930 522 T 1046 497.5" fill="none" stroke="#fff" stroke-opacity="0.12" stroke-width="2.6" stroke-linecap="round" filter="url(#B1_1)"/>
<path d="M815 499 Q 870 521.5 930 522 T 990 515" fill="none" stroke="#fff" stroke-opacity="0.09" stroke-width="6" stroke-linecap="round" filter="url(#B1p6_1p6)"/>
<rect x="790" y="562.2" width="120" height="1.8" fill="#fff" fill-opacity="0.1" filter="url(#B4_0p8)"/>
<rect x="848" y="566.3" width="120" height="3.2" fill="#000" fill-opacity="0.5" filter="url(#B5_1)"/>
<rect x="975" y="565" width="45" height="2.2" fill="#000" fill-opacity="0.35" filter="url(#B5_1)"/>
<rect x="880" y="541.5" width="100" height="1.8" fill="#000" fill-opacity="0.5" filter="url(#B4_0p8)"/>
<rect x="865" y="547" width="60" height="1.8" fill="#000" fill-opacity="0.45" filter="url(#B4_0p8)"/>
<rect x="935" y="546" width="70" height="1.8" fill="#000" fill-opacity="0.5" filter="url(#B4_0p8)"/>
<rect x="905" y="555" width="70" height="1.8" fill="#000" fill-opacity="0.45" filter="url(#B4_0p8)"/>
<rect x="800" y="536" width="40" height="1.8" fill="#000" fill-opacity="0.45" filter="url(#B4_0p8)"/>
<rect x="1000" y="534" width="60" height="1.8" fill="#000" fill-opacity="0.45" filter="url(#B4_0p8)"/>
<rect x="1030" y="527" width="40" height="1.8" fill="#000" fill-opacity="0.45" filter="url(#B4_0p8)"/>
<rect x="790" y="522" width="30" height="1.8" fill="#000" fill-opacity="0.4" filter="url(#B4_0p8)"/>
<rect x="840" y="534.5" width="40" height="1.8" fill="#000" fill-opacity="0.4" filter="url(#B4_0p8)"/>
<rect x="985" y="550.5" width="30" height="1.8" fill="#000" fill-opacity="0.45" filter="url(#B4_0p8)"/>
<rect x="960" y="540.5" width="80" height="1.8" fill="#000" fill-opacity="0.45" filter="url(#B4_0p8)"/>
<rect x="890" y="549.5" width="50" height="1.8" fill="#000" fill-opacity="0.4" filter="url(#B4_0p8)"/>
<rect x="1010" y="541" width="30" height="1.8" fill="#000" fill-opacity="0.4" filter="url(#B4_0p8)"/>
<rect x="1040" y="535.5" width="30" height="1.8" fill="#000" fill-opacity="0.4" filter="url(#B4_0p8)"/>
<rect x="785" y="543.5" width="30" height="1.8" fill="#000" fill-opacity="0.45" filter="url(#B4_0p8)"/>
<rect x="930" y="573.8" width="90" height="1.8" fill="#000" fill-opacity="0.3" filter="url(#B4_0p8)"/>
<rect x="800" y="510" width="30" height="1.8" fill="#000" fill-opacity="0.35" filter="url(#B4_0p8)"/>
<rect x="1040" y="520.5" width="35" height="1.8" fill="#000" fill-opacity="0.4" filter="url(#B4_0p8)"/>
<rect x="790" y="584.5" width="270" height="1.6" fill="#fff" fill-opacity="0.04" filter="url(#B3_0p8)"/>
<path d="M826 502.5 Q 880 520 930 521.5 T 962 520.3" fill="none" stroke="#fff" stroke-opacity="0.5" stroke-width="3.4" stroke-linecap="round" filter="url(#B1_1)"/>
<path d="M839 507 Q 888 520.5 930 521.6 T 950 521" fill="none" stroke="#fff" stroke-opacity="1" stroke-width="3" stroke-linecap="round" filter="url(#B0p8_0p8)"/>
<path d="M850 510.5 Q 890 520.5 930 521.6 T 945 521.2" fill="none" stroke="#fff" stroke-opacity="0.9" stroke-width="1.8" stroke-linecap="round" filter="url(#B0p6_0p6)"/>
<path d="M795 513 L 830 520.5 L 862 528.5 L 893 535" fill="none" stroke="#fff" stroke-opacity="0.34" stroke-width="4.4" stroke-linecap="round" filter="url(#B1p1_1p1)"/>
<path d="M797 513.5 L 845 524" fill="none" stroke="#fff" stroke-opacity="0.15" stroke-width="3" stroke-linecap="round" filter="url(#B1_1)"/>
<path d="M786 528.7 L 815 532.5" fill="none" stroke="#fff" stroke-opacity="0.32" stroke-width="3.6" stroke-linecap="round" filter="url(#B1_1)"/>
<path d="M802 540 L 849 546" fill="none" stroke="#fff" stroke-opacity="0.27" stroke-width="2.8" stroke-linecap="round" filter="url(#B1_1)"/>
<path d="M824 549.4 Q 860 552 890 558" fill="none" stroke="#fff" stroke-opacity="0.37" stroke-width="4.6" stroke-linecap="round" filter="url(#B1p1_1p1)"/>
<path d="M833 550.2 L 860 552.3" fill="none" stroke="#fff" stroke-opacity="1" stroke-width="2.6" stroke-linecap="round" filter="url(#B0p7_0p7)"/>
<path d="M855 556 Q 890 558.5 930 558" fill="none" stroke="#fff" stroke-opacity="0.3" stroke-width="2.6" stroke-linecap="round" filter="url(#B1_1)"/>
<rect x="944" y="536.4" width="12" height="2.2" fill="#fff" fill-opacity="0.34" filter="url(#B1_1)"/>
<rect x="900" y="536.6" width="30" height="2" fill="#fff" fill-opacity="0.22" filter="url(#B1_1)"/>
<rect x="930" y="551.4" width="42" height="2.2" fill="#fff" fill-opacity="0.3" filter="url(#B1_1)"/>
<path d="M930 558 L 980 558" fill="none" stroke="#fff" stroke-opacity="0.3" stroke-width="2.6" stroke-linecap="round" filter="url(#B1_1)"/>
<path d="M978 558 L 1018 557" fill="none" stroke="#fff" stroke-opacity="0.4" stroke-width="3.6" stroke-linecap="round" filter="url(#B1_1)"/>
<path d="M1010 552 Q 1035 550 1056 547" fill="none" stroke="#fff" stroke-opacity="0.38" stroke-width="5" stroke-linecap="round" filter="url(#B1p2_1p2)"/>
<path d="M1046 541.5 L 1066 540.5" fill="none" stroke="#fff" stroke-opacity="0.3" stroke-width="2.6" stroke-linecap="round" filter="url(#B1_1)"/>
<path d="M1026 544.8 L 1050 544.4" fill="none" stroke="#fff" stroke-opacity="1" stroke-width="2.6" stroke-linecap="round" filter="url(#B0p7_0p7)"/>
<rect x="840" y="562.2" width="60" height="2.2" fill="#fff" fill-opacity="0.5" filter="url(#B1_1)"/>
<rect x="853" y="561.9" width="42" height="2.7" fill="#fff" fill-opacity="1" filter="url(#B0p7_0p7)"/>
<rect x="960" y="562.2" width="58" height="2.2" fill="#fff" fill-opacity="0.5" filter="url(#B1_1)"/>
<rect x="969" y="561.9" width="43" height="2.8" fill="#fff" fill-opacity="1" filter="url(#B0p7_0p7)"/>
<rect x="895" y="570.4" width="84" height="2" fill="#fff" fill-opacity="0.42" filter="url(#B1_1)"/>
<rect x="903" y="570.1" width="58" height="2.5" fill="#fff" fill-opacity="1" filter="url(#B0p7_0p7)"/>
</g></g>
<g clip-path="url(#cpg)"><g filter="url(#cmg)">
<rect x="106" y="746.2" width="300" height="291.8" fill="rgb(3,3,3)"/>
<path d="M96 740 L416 740 L416 845 Q 396 880 368 915 L374 928 L356 942 Q 338 958 342 976 L349 984 Q 318 1005 304 1045 L206 1045 Q 194 1005 158 983 L164 972 Q 172 955 146 942 L122 929 L148 912 Q 121 885 96 850 Z" fill="#fff" fill-opacity="0.01" filter="url(#B16_16)"/>
<path d="M384 762 Q 364 820 350 852 T 328 912" fill="none" stroke="#fff" stroke-opacity="0.02" stroke-width="20" stroke-linecap="round" filter="url(#B9_9)"/>
<path d="M138 772 Q 165 830 197 888" fill="none" stroke="#fff" stroke-opacity="0.01" stroke-width="20" stroke-linecap="round" filter="url(#B9_9)"/>
<ellipse cx="256" cy="905" rx="130" ry="45" fill="url(#g)" fill-opacity="0.01"/>
<ellipse cx="256" cy="935" rx="150" ry="12" fill="url(#g)" fill-opacity="0.03"/>
<ellipse cx="198" cy="934.5" rx="48" ry="14" fill="url(#g)" fill-opacity="0.19"/>
<ellipse cx="319" cy="934" rx="42" ry="15.5" fill="url(#g)" fill-opacity="0.24"/>
<ellipse cx="252" cy="992.5" rx="125" ry="12.5" fill="url(#g)" fill-opacity="0.09"/>
<ellipse cx="262" cy="992.7" rx="62" ry="11" fill="url(#g)" fill-opacity="0.19"/>
</g></g>
<g clip-path="url(#cph)"><g filter="url(#cmh)">
<rect x="446.2" y="746.2" width="300.8" height="292.2" fill="rgb(7,7,7)"/>
<path d="M436 740 L756 740 L756 845 Q 736 880 708 915 L714 928 L696 942 Q 678 958 682 976 L689 984 Q 658 1005 644 1045 L546 1045 Q 534 1005 498 983 L504 972 Q 512 955 486 942 L462 929 L488 912 Q 461 885 436 850 Z" fill="#fff" fill-opacity="0.04" filter="url(#B14_14)"/>
<ellipse cx="596" cy="868" rx="125" ry="70" fill="url(#g)" fill-opacity="0.05"/>
<ellipse cx="600" cy="810" rx="58" ry="42" fill="url(#k)" fill-opacity="0.55"/>
<ellipse cx="600" cy="760" rx="80" ry="26" fill="url(#k)" fill-opacity="0.3"/>
<path d="M458 750 Q 474 790 494 822" fill="none" stroke="#fff" stroke-opacity="0.06" stroke-width="22" stroke-linecap="round" filter="url(#B6_6)"/>
<path d="M738 750 Q 722 790 706 822" fill="none" stroke="#fff" stroke-opacity="0.06" stroke-width="22" stroke-linecap="round" filter="url(#B6_6)"/>
<path d="M488 816 Q 520 840 536 866 T 558 894" fill="none" stroke="#fff" stroke-opacity="0.12" stroke-width="18" stroke-linecap="round" filter="url(#B5p5_5p5)"/>
<path d="M711 816 Q 684 842 670 866 T 652 894" fill="none" stroke="#fff" stroke-opacity="0.12" stroke-width="18" stroke-linecap="round" filter="url(#B5p5_5p5)"/>
<path d="M570 853 Q 610 847 650 853" fill="none" stroke="#fff" stroke-opacity="0.09" stroke-width="11" stroke-linecap="round" filter="url(#B4_4)"/>
<path d="M530 890 Q 600 884 684 890" fill="none" stroke="#fff" stroke-opacity="0.1" stroke-width="13" stroke-linecap="round" filter="url(#B4p5_4p5)"/>
<path d="M535 872 Q 600 880 675 870" fill="none" stroke="#fff" stroke-opacity="0.03" stroke-width="12" stroke-linecap="round" filter="url(#B5_5)"/>
<ellipse cx="603" cy="906" rx="75" ry="14" fill="url(#g)" fill-opacity="0.06"/>
<ellipse cx="598" cy="930.5" rx="175" ry="16" fill="url(#g)" fill-opacity="0.12"/>
<ellipse cx="542" cy="930.5" rx="48" ry="12" fill="url(#g)" fill-opacity="0.04"/>
<ellipse cx="659" cy="930" rx="50" ry="13" fill="url(#g)" fill-opacity="0.04"/>
<ellipse cx="598" cy="962" rx="75" ry="26" fill="url(#g)" fill-opacity="0.04"/>
<ellipse cx="600" cy="989" rx="105" ry="14" fill="url(#g)" fill-opacity="0.12"/>
<ellipse cx="598" cy="1018" rx="80" ry="36" fill="url(#g)" fill-opacity="0.06"/>
<ellipse cx="541.5" cy="930.6" rx="27" ry="8.5" fill="url(#p)" fill-opacity="0.62"/>
<ellipse cx="543" cy="930.6" rx="16" ry="5" fill="url(#g)" fill-opacity="0.35"/>
<ellipse cx="659" cy="930.2" rx="29" ry="10" fill="url(#p)" fill-opacity="0.66"/>
<ellipse cx="660" cy="930" rx="19" ry="7" fill="url(#g)" fill-opacity="0.75"/>
<ellipse cx="603" cy="988.8" rx="43" ry="8" fill="url(#p)" fill-opacity="0.58"/>
<ellipse cx="603" cy="988.8" rx="25" ry="4.5" fill="url(#g)" fill-opacity="0.25"/>
</g></g>
<g clip-path="url(#cpi)"><g filter="url(#cmi)">
<rect x="780.1" y="745.4" width="300.5" height="292.2" fill="rgb(6,6,6)"/>
<path d="M770 740 L1090 740 L1090 845 Q 1070 880 1042 915 L1048 928 L1030 942 Q 1012 958 1016 976 L1023 984 Q 992 1005 978 1045 L880 1045 Q 868 1005 832 983 L838 972 Q 846 955 820 942 L796 929 L822 912 Q 795 885 770 850 Z" fill="#fff" fill-opacity="0.18" filter="url(#B11_11)"/>
<ellipse cx="930" cy="800" rx="190" ry="70" fill="url(#g)" fill-opacity="0.02"/>
<ellipse cx="874" cy="786.5" rx="11" ry="7" fill="url(#g)" fill-opacity="0.14"/>
<ellipse cx="926" cy="785" rx="13" ry="7" fill="url(#g)" fill-opacity="0.15"/>
<ellipse cx="986" cy="788" rx="16" ry="8" fill="url(#g)" fill-opacity="0.13"/>
<ellipse cx="880" cy="808" rx="12" ry="7" fill="url(#g)" fill-opacity="0.1"/>
<ellipse cx="968" cy="796" rx="10" ry="6" fill="url(#g)" fill-opacity="0.1"/>
<ellipse cx="990" cy="810" rx="12" ry="6" fill="url(#g)" fill-opacity="0.1"/>
<ellipse cx="905" cy="770" rx="14" ry="8" fill="url(#g)" fill-opacity="0.06"/>
<ellipse cx="955" cy="768" rx="16" ry="8" fill="url(#g)" fill-opacity="0.06"/>
<ellipse cx="900" cy="830" rx="10" ry="12" fill="url(#g)" fill-opacity="0.07"/>
<ellipse cx="985" cy="835" rx="14" ry="8" fill="url(#g)" fill-opacity="0.06"/>
<ellipse cx="940" cy="870" rx="30" ry="7" fill="url(#g)" fill-opacity="0.05"/>
<ellipse cx="930" cy="820" rx="16" ry="8" fill="url(#g)" fill-opacity="0.05"/>
<path d="M812 758 Q 826 785 845 807" fill="none" stroke="#fff" stroke-opacity="0.37" stroke-width="17" stroke-linecap="round" filter="url(#B3p5_3p5)"/>
<path d="M828 824 Q 860 852 880 887" fill="none" stroke="#fff" stroke-opacity="0.4" stroke-width="18" stroke-linecap="round" filter="url(#B3p5_3p5)"/>
<ellipse cx="845.5" cy="836" rx="19" ry="12" fill="url(#g)" fill-opacity="0.6" transform="rotate(40 845.5 836)"/>
<ellipse cx="866" cy="862" rx="12" ry="9" fill="url(#g)" fill-opacity="0.15" transform="rotate(50 866 862)"/>
<ellipse cx="879" cy="888.5" rx="16" ry="8" fill="url(#g)" fill-opacity="0.4"/>
<path d="M886 890 Q 925 896 963 885 T 1000 884" fill="none" stroke="#fff" stroke-opacity="0.4" stroke-width="12" stroke-linecap="round" filter="url(#B2p8_2p8)"/>
<ellipse cx="911" cy="893" rx="9" ry="11" fill="url(#g)" fill-opacity="0.2"/>
<ellipse cx="1004.5" cy="886" rx="27" ry="25" fill="url(#p)" fill-opacity="0.44"/>
<ellipse cx="1004" cy="884" rx="12" ry="10" fill="url(#g)" fill-opacity="0.2"/>
<path d="M1007 895 L 1010 915" fill="none" stroke="#fff" stroke-opacity="0.3" stroke-width="12" stroke-linecap="round" filter="url(#B3_3)"/>
<path d="M1022 856 Q 1034 830 1028 804 T 1041 790" fill="none" stroke="#fff" stroke-opacity="0.4" stroke-width="18" stroke-linecap="round" filter="url(#B3p5_3p5)"/>
<ellipse cx="1026" cy="838" rx="11" ry="18" fill="url(#g)" fill-opacity="0.33" transform="rotate(15 1026 838)"/>
<ellipse cx="1050" cy="836" rx="9" ry="14" fill="url(#g)" fill-opacity="0.12"/>
<path d="M1043 786 L 1059 762" fill="none" stroke="#fff" stroke-opacity="0.34" stroke-width="14" stroke-linecap="round" filter="url(#B3_3)"/>
<ellipse cx="1041" cy="790.5" rx="16" ry="14" fill="url(#g)" fill-opacity="0.92"/>
<rect x="908" y="844.5" width="65" height="9" fill="#fff" fill-opacity="0.38" filter="url(#B2p5_2p5)"/>
<ellipse cx="918.5" cy="807.5" rx="8" ry="5" fill="url(#g)" fill-opacity="0.3"/>
<ellipse cx="926" cy="747" rx="18" ry="4" fill="url(#g)" fill-opacity="0.3"/>
<ellipse cx="868" cy="930.5" rx="46" ry="12" fill="url(#p)" fill-opacity="0.6"/>
<ellipse cx="876" cy="930" rx="31" ry="9.5" fill="url(#p)" fill-opacity="0.96"/>
<ellipse cx="993" cy="929" rx="38" ry="14" fill="url(#p)" fill-opacity="0.62"/>
<ellipse cx="993" cy="929" rx="29" ry="10.5" fill="url(#p)" fill-opacity="0.97"/>
<ellipse cx="914" cy="937" rx="12" ry="19" fill="url(#g)" fill-opacity="0.34"/>
<ellipse cx="932" cy="938" rx="18" ry="10" fill="url(#g)" fill-opacity="0.13"/>
<ellipse cx="934" cy="987.5" rx="64" ry="7" fill="url(#p)" fill-opacity="0.5"/>
<ellipse cx="934" cy="987.5" rx="38" ry="6" fill="url(#p)" fill-opacity="0.95"/>
</g></g>
<g opacity="0.996">
<path d="M210.8 88.9 H300.2 V125.4 H210.8 Z" fill="none" stroke="#fff" stroke-width="2.7" stroke-dasharray="10 5.7" stroke-dashoffset="5"/>
<path d="M557.5 71.5 H647 V107.7 H557.5 Z" fill="none" stroke="#fff" stroke-width="2.7" stroke-dasharray="10 5.7" stroke-dashoffset="5"/>
<path d="M891 71.5 H980.5 V107.7 H891 Z" fill="none" stroke="#fff" stroke-width="2.7" stroke-dasharray="10 5.7" stroke-dashoffset="5"/>
<path d="M157.4 919.6 H356.6 V949.4 H157.4 Z" fill="none" stroke="#fff" stroke-width="2.5" stroke-linecap="round" stroke-dasharray="0.01 5.3"/>
<path d="M157.4 979 H356.6 V1009 H157.4 Z" fill="none" stroke="#fff" stroke-width="2.8" stroke-dasharray="10 5.7" stroke-dashoffset="5"/>
<path d="M497.5 919.6 H696.7 V949.4 H497.5 Z" fill="none" stroke="#fff" stroke-width="2.5" stroke-linecap="round" stroke-dasharray="0.01 5.3"/>
<path d="M497.5 979 H696.7 V1009 H497.5 Z" fill="none" stroke="#fff" stroke-width="2.8" stroke-dasharray="10 5.7" stroke-dashoffset="5"/>
<path d="M829.6 919.6 H1028.8 V949.4 H829.6 Z" fill="none" stroke="#fff" stroke-width="2.5" stroke-linecap="round" stroke-dasharray="0.01 5.3"/>
<path d="M829.6 979 H1028.8 V1009 H829.6 Z" fill="none" stroke="#fff" stroke-width="2.8" stroke-dasharray="10 5.7" stroke-dashoffset="5"/>
<text x="222.4" y="57" font-size="30" textLength="67.6" lengthAdjust="spacingAndGlyphs" style="fill:#f2f5fa">150 K</text>
<text x="576" y="57" font-size="30" textLength="53" lengthAdjust="spacingAndGlyphs" style="fill:#f2f5fa">50 K</text>
<text x="911" y="57" font-size="30" textLength="53" lengthAdjust="spacingAndGlyphs" style="fill:#f2f5fa">10 K</text>
<text x="222.4" y="459.7" font-size="30" textLength="67.6" lengthAdjust="spacingAndGlyphs" style="fill:#f2f5fa">150 K</text>
<text x="576" y="459.7" font-size="30" textLength="53" lengthAdjust="spacingAndGlyphs" style="fill:#f2f5fa">50 K</text>
<text x="911" y="459.7" font-size="30" textLength="53" lengthAdjust="spacingAndGlyphs" style="fill:#f2f5fa">10 K</text>
<line x1="181.62" y1="9.85" x2="181.62" y2="26.85" stroke="#000" stroke-width="2.4"/>
<line x1="181.62" y1="304.55" x2="181.62" y2="287.55" stroke="#000" stroke-width="2.4"/>
<line x1="256" y1="9.85" x2="256" y2="26.85" stroke="#000" stroke-width="2.4"/>
<line x1="256" y1="304.55" x2="256" y2="287.55" stroke="#000" stroke-width="2.4"/>
<line x1="330.38" y1="9.85" x2="330.38" y2="26.85" stroke="#000" stroke-width="2.4"/>
<line x1="330.38" y1="304.55" x2="330.38" y2="287.55" stroke="#000" stroke-width="2.4"/>
<line x1="144.44" y1="9.85" x2="144.44" y2="19.35" stroke="#000" stroke-width="2.4"/>
<line x1="144.44" y1="304.55" x2="144.44" y2="295.05" stroke="#000" stroke-width="2.4"/>
<line x1="218.81" y1="9.85" x2="218.81" y2="19.35" stroke="#000" stroke-width="2.4"/>
<line x1="218.81" y1="304.55" x2="218.81" y2="295.05" stroke="#000" stroke-width="2.4"/>
<line x1="293.19" y1="9.85" x2="293.19" y2="19.35" stroke="#000" stroke-width="2.4"/>
<line x1="293.19" y1="304.55" x2="293.19" y2="295.05" stroke="#000" stroke-width="2.4"/>
<line x1="367.56" y1="9.85" x2="367.56" y2="19.35" stroke="#000" stroke-width="2.4"/>
<line x1="367.56" y1="304.55" x2="367.56" y2="295.05" stroke="#000" stroke-width="2.4"/>
<line x1="107.25" y1="206.32" x2="124.25" y2="206.32" stroke="#000" stroke-width="2.4"/>
<line x1="404.75" y1="206.32" x2="387.75" y2="206.32" stroke="#000" stroke-width="2.4"/>
<line x1="107.25" y1="108.08" x2="124.25" y2="108.08" stroke="#000" stroke-width="2.4"/>
<line x1="404.75" y1="108.08" x2="387.75" y2="108.08" stroke="#000" stroke-width="2.4"/>
<line x1="107.25" y1="255.43" x2="116.75" y2="255.43" stroke="#000" stroke-width="2.4"/>
<line x1="404.75" y1="255.43" x2="395.25" y2="255.43" stroke="#000" stroke-width="2.4"/>
<line x1="107.25" y1="157.2" x2="116.75" y2="157.2" stroke="#000" stroke-width="2.4"/>
<line x1="404.75" y1="157.2" x2="395.25" y2="157.2" stroke="#000" stroke-width="2.4"/>
<line x1="107.25" y1="58.97" x2="116.75" y2="58.97" stroke="#000" stroke-width="2.4"/>
<line x1="404.75" y1="58.97" x2="395.25" y2="58.97" stroke="#000" stroke-width="2.4"/>
<rect x="107.25" y="9.85" width="297.5" height="294.7" fill="none" stroke="#000" stroke-width="2.5"/>
<line x1="521.98" y1="9.25" x2="521.98" y2="26.25" stroke="#000" stroke-width="2.4"/>
<line x1="521.98" y1="303.45" x2="521.98" y2="286.45" stroke="#000" stroke-width="2.4"/>
<line x1="596.5" y1="9.25" x2="596.5" y2="26.25" stroke="#000" stroke-width="2.4"/>
<line x1="596.5" y1="303.45" x2="596.5" y2="286.45" stroke="#000" stroke-width="2.4"/>
<line x1="671.02" y1="9.25" x2="671.02" y2="26.25" stroke="#000" stroke-width="2.4"/>
<line x1="671.02" y1="303.45" x2="671.02" y2="286.45" stroke="#000" stroke-width="2.4"/>
<line x1="484.71" y1="9.25" x2="484.71" y2="18.75" stroke="#000" stroke-width="2.4"/>
<line x1="484.71" y1="303.45" x2="484.71" y2="293.95" stroke="#000" stroke-width="2.4"/>
<line x1="559.24" y1="9.25" x2="559.24" y2="18.75" stroke="#000" stroke-width="2.4"/>
<line x1="559.24" y1="303.45" x2="559.24" y2="293.95" stroke="#000" stroke-width="2.4"/>
<line x1="633.76" y1="9.25" x2="633.76" y2="18.75" stroke="#000" stroke-width="2.4"/>
<line x1="633.76" y1="303.45" x2="633.76" y2="293.95" stroke="#000" stroke-width="2.4"/>
<line x1="708.29" y1="9.25" x2="708.29" y2="18.75" stroke="#000" stroke-width="2.4"/>
<line x1="708.29" y1="303.45" x2="708.29" y2="293.95" stroke="#000" stroke-width="2.4"/>
<line x1="447.45" y1="205.38" x2="464.45" y2="205.38" stroke="#000" stroke-width="2.4"/>
<line x1="745.55" y1="205.38" x2="728.55" y2="205.38" stroke="#000" stroke-width="2.4"/>
<line x1="447.45" y1="107.32" x2="464.45" y2="107.32" stroke="#000" stroke-width="2.4"/>
<line x1="745.55" y1="107.32" x2="728.55" y2="107.32" stroke="#000" stroke-width="2.4"/>
<line x1="447.45" y1="254.42" x2="456.95" y2="254.42" stroke="#000" stroke-width="2.4"/>
<line x1="745.55" y1="254.42" x2="736.05" y2="254.42" stroke="#000" stroke-width="2.4"/>
<line x1="447.45" y1="156.35" x2="456.95" y2="156.35" stroke="#000" stroke-width="2.4"/>
<line x1="745.55" y1="156.35" x2="736.05" y2="156.35" stroke="#000" stroke-width="2.4"/>
<line x1="447.45" y1="58.28" x2="456.95" y2="58.28" stroke="#000" stroke-width="2.4"/>
<line x1="745.55" y1="58.28" x2="736.05" y2="58.28" stroke="#000" stroke-width="2.4"/>
<rect x="447.45" y="9.25" width="298.1" height="294.2" fill="none" stroke="#000" stroke-width="2.5"/>
<line x1="855.05" y1="10.55" x2="855.05" y2="27.55" stroke="#000" stroke-width="2.4"/>
<line x1="855.05" y1="304.75" x2="855.05" y2="287.75" stroke="#000" stroke-width="2.4"/>
<line x1="929.75" y1="10.55" x2="929.75" y2="27.55" stroke="#000" stroke-width="2.4"/>
<line x1="929.75" y1="304.75" x2="929.75" y2="287.75" stroke="#000" stroke-width="2.4"/>
<line x1="1004.45" y1="10.55" x2="1004.45" y2="27.55" stroke="#000" stroke-width="2.4"/>
<line x1="1004.45" y1="304.75" x2="1004.45" y2="287.75" stroke="#000" stroke-width="2.4"/>
<line x1="817.7" y1="10.55" x2="817.7" y2="20.05" stroke="#000" stroke-width="2.4"/>
<line x1="817.7" y1="304.75" x2="817.7" y2="295.25" stroke="#000" stroke-width="2.4"/>
<line x1="892.4" y1="10.55" x2="892.4" y2="20.05" stroke="#000" stroke-width="2.4"/>
<line x1="892.4" y1="304.75" x2="892.4" y2="295.25" stroke="#000" stroke-width="2.4"/>
<line x1="967.1" y1="10.55" x2="967.1" y2="20.05" stroke="#000" stroke-width="2.4"/>
<line x1="967.1" y1="304.75" x2="967.1" y2="295.25" stroke="#000" stroke-width="2.4"/>
<line x1="1041.8" y1="10.55" x2="1041.8" y2="20.05" stroke="#000" stroke-width="2.4"/>
<line x1="1041.8" y1="304.75" x2="1041.8" y2="295.25" stroke="#000" stroke-width="2.4"/>
<line x1="780.35" y1="206.68" x2="797.35" y2="206.68" stroke="#000" stroke-width="2.4"/>
<line x1="1079.15" y1="206.68" x2="1062.15" y2="206.68" stroke="#000" stroke-width="2.4"/>
<line x1="780.35" y1="108.62" x2="797.35" y2="108.62" stroke="#000" stroke-width="2.4"/>
<line x1="1079.15" y1="108.62" x2="1062.15" y2="108.62" stroke="#000" stroke-width="2.4"/>
<line x1="780.35" y1="255.72" x2="789.85" y2="255.72" stroke="#000" stroke-width="2.4"/>
<line x1="1079.15" y1="255.72" x2="1069.65" y2="255.72" stroke="#000" stroke-width="2.4"/>
<line x1="780.35" y1="157.65" x2="789.85" y2="157.65" stroke="#000" stroke-width="2.4"/>
<line x1="1079.15" y1="157.65" x2="1069.65" y2="157.65" stroke="#000" stroke-width="2.4"/>
<line x1="780.35" y1="59.58" x2="789.85" y2="59.58" stroke="#000" stroke-width="2.4"/>
<line x1="1079.15" y1="59.58" x2="1069.65" y2="59.58" stroke="#000" stroke-width="2.4"/>
<rect x="780.35" y="10.55" width="298.8" height="294.2" fill="none" stroke="#000" stroke-width="2.5"/>
<line x1="156.5" y1="404.05" x2="156.5" y2="421.05" stroke="#000" stroke-width="2.4"/>
<line x1="156.5" y1="692.95" x2="156.5" y2="675.95" stroke="#000" stroke-width="2.4"/>
<line x1="256" y1="404.05" x2="256" y2="421.05" stroke="#000" stroke-width="2.4"/>
<line x1="256" y1="692.95" x2="256" y2="675.95" stroke="#000" stroke-width="2.4"/>
<line x1="355.5" y1="404.05" x2="355.5" y2="421.05" stroke="#000" stroke-width="2.4"/>
<line x1="355.5" y1="692.95" x2="355.5" y2="675.95" stroke="#000" stroke-width="2.4"/>
<line x1="206.25" y1="404.05" x2="206.25" y2="413.55" stroke="#000" stroke-width="2.4"/>
<line x1="206.25" y1="692.95" x2="206.25" y2="683.45" stroke="#000" stroke-width="2.4"/>
<line x1="305.75" y1="404.05" x2="305.75" y2="413.55" stroke="#000" stroke-width="2.4"/>
<line x1="305.75" y1="692.95" x2="305.75" y2="683.45" stroke="#000" stroke-width="2.4"/>
<line x1="106.75" y1="596.65" x2="123.75" y2="596.65" stroke="#000" stroke-width="2.4"/>
<line x1="405.25" y1="596.65" x2="388.25" y2="596.65" stroke="#000" stroke-width="2.4"/>
<line x1="106.75" y1="500.35" x2="123.75" y2="500.35" stroke="#000" stroke-width="2.4"/>
<line x1="405.25" y1="500.35" x2="388.25" y2="500.35" stroke="#000" stroke-width="2.4"/>
<line x1="106.75" y1="644.8" x2="116.25" y2="644.8" stroke="#000" stroke-width="2.4"/>
<line x1="405.25" y1="644.8" x2="395.75" y2="644.8" stroke="#000" stroke-width="2.4"/>
<line x1="106.75" y1="548.5" x2="116.25" y2="548.5" stroke="#000" stroke-width="2.4"/>
<line x1="405.25" y1="548.5" x2="395.75" y2="548.5" stroke="#000" stroke-width="2.4"/>
<line x1="106.75" y1="452.2" x2="116.25" y2="452.2" stroke="#000" stroke-width="2.4"/>
<line x1="405.25" y1="452.2" x2="395.75" y2="452.2" stroke="#000" stroke-width="2.4"/>
<rect x="106.75" y="404.05" width="298.5" height="288.9" fill="none" stroke="#000" stroke-width="2.5"/>
<line x1="497.17" y1="403.45" x2="497.17" y2="420.45" stroke="#000" stroke-width="2.4"/>
<line x1="497.17" y1="693.15" x2="497.17" y2="676.15" stroke="#000" stroke-width="2.4"/>
<line x1="596.6" y1="403.45" x2="596.6" y2="420.45" stroke="#000" stroke-width="2.4"/>
<line x1="596.6" y1="693.15" x2="596.6" y2="676.15" stroke="#000" stroke-width="2.4"/>
<line x1="696.03" y1="403.45" x2="696.03" y2="420.45" stroke="#000" stroke-width="2.4"/>
<line x1="696.03" y1="693.15" x2="696.03" y2="676.15" stroke="#000" stroke-width="2.4"/>
<line x1="546.88" y1="403.45" x2="546.88" y2="412.95" stroke="#000" stroke-width="2.4"/>
<line x1="546.88" y1="693.15" x2="546.88" y2="683.65" stroke="#000" stroke-width="2.4"/>
<line x1="646.32" y1="403.45" x2="646.32" y2="412.95" stroke="#000" stroke-width="2.4"/>
<line x1="646.32" y1="693.15" x2="646.32" y2="683.65" stroke="#000" stroke-width="2.4"/>
<line x1="447.45" y1="596.58" x2="464.45" y2="596.58" stroke="#000" stroke-width="2.4"/>
<line x1="745.75" y1="596.58" x2="728.75" y2="596.58" stroke="#000" stroke-width="2.4"/>
<line x1="447.45" y1="500.02" x2="464.45" y2="500.02" stroke="#000" stroke-width="2.4"/>
<line x1="745.75" y1="500.02" x2="728.75" y2="500.02" stroke="#000" stroke-width="2.4"/>
<line x1="447.45" y1="644.87" x2="456.95" y2="644.87" stroke="#000" stroke-width="2.4"/>
<line x1="745.75" y1="644.87" x2="736.25" y2="644.87" stroke="#000" stroke-width="2.4"/>
<line x1="447.45" y1="548.3" x2="456.95" y2="548.3" stroke="#000" stroke-width="2.4"/>
<line x1="745.75" y1="548.3" x2="736.25" y2="548.3" stroke="#000" stroke-width="2.4"/>
<line x1="447.45" y1="451.73" x2="456.95" y2="451.73" stroke="#000" stroke-width="2.4"/>
<line x1="745.75" y1="451.73" x2="736.25" y2="451.73" stroke="#000" stroke-width="2.4"/>
<rect x="447.45" y="403.45" width="298.3" height="289.7" fill="none" stroke="#000" stroke-width="2.5"/>
<line x1="830.07" y1="403.65" x2="830.07" y2="420.65" stroke="#000" stroke-width="2.4"/>
<line x1="830.07" y1="693.15" x2="830.07" y2="676.15" stroke="#000" stroke-width="2.4"/>
<line x1="929.7" y1="403.65" x2="929.7" y2="420.65" stroke="#000" stroke-width="2.4"/>
<line x1="929.7" y1="693.15" x2="929.7" y2="676.15" stroke="#000" stroke-width="2.4"/>
<line x1="1029.33" y1="403.65" x2="1029.33" y2="420.65" stroke="#000" stroke-width="2.4"/>
<line x1="1029.33" y1="693.15" x2="1029.33" y2="676.15" stroke="#000" stroke-width="2.4"/>
<line x1="879.88" y1="403.65" x2="879.88" y2="413.15" stroke="#000" stroke-width="2.4"/>
<line x1="879.88" y1="693.15" x2="879.88" y2="683.65" stroke="#000" stroke-width="2.4"/>
<line x1="979.52" y1="403.65" x2="979.52" y2="413.15" stroke="#000" stroke-width="2.4"/>
<line x1="979.52" y1="693.15" x2="979.52" y2="683.65" stroke="#000" stroke-width="2.4"/>
<line x1="780.25" y1="596.65" x2="797.25" y2="596.65" stroke="#000" stroke-width="2.4"/>
<line x1="1079.15" y1="596.65" x2="1062.15" y2="596.65" stroke="#000" stroke-width="2.4"/>
<line x1="780.25" y1="500.15" x2="797.25" y2="500.15" stroke="#000" stroke-width="2.4"/>
<line x1="1079.15" y1="500.15" x2="1062.15" y2="500.15" stroke="#000" stroke-width="2.4"/>
<line x1="780.25" y1="644.9" x2="789.75" y2="644.9" stroke="#000" stroke-width="2.4"/>
<line x1="1079.15" y1="644.9" x2="1069.65" y2="644.9" stroke="#000" stroke-width="2.4"/>
<line x1="780.25" y1="548.4" x2="789.75" y2="548.4" stroke="#000" stroke-width="2.4"/>
<line x1="1079.15" y1="548.4" x2="1069.65" y2="548.4" stroke="#000" stroke-width="2.4"/>
<line x1="780.25" y1="451.9" x2="789.75" y2="451.9" stroke="#000" stroke-width="2.4"/>
<line x1="1079.15" y1="451.9" x2="1069.65" y2="451.9" stroke="#000" stroke-width="2.4"/>
<rect x="780.25" y="403.65" width="298.9" height="289.5" fill="none" stroke="#000" stroke-width="2.5"/>
<line x1="156.83" y1="747.45" x2="156.83" y2="764.45" stroke="#000" stroke-width="2.4"/>
<line x1="156.83" y1="1036.75" x2="156.83" y2="1019.75" stroke="#000" stroke-width="2.4"/>
<line x1="256" y1="747.45" x2="256" y2="764.45" stroke="#000" stroke-width="2.4"/>
<line x1="256" y1="1036.75" x2="256" y2="1019.75" stroke="#000" stroke-width="2.4"/>
<line x1="355.17" y1="747.45" x2="355.17" y2="764.45" stroke="#000" stroke-width="2.4"/>
<line x1="355.17" y1="1036.75" x2="355.17" y2="1019.75" stroke="#000" stroke-width="2.4"/>
<line x1="206.42" y1="747.45" x2="206.42" y2="756.95" stroke="#000" stroke-width="2.4"/>
<line x1="206.42" y1="1036.75" x2="206.42" y2="1027.25" stroke="#000" stroke-width="2.4"/>
<line x1="305.58" y1="747.45" x2="305.58" y2="756.95" stroke="#000" stroke-width="2.4"/>
<line x1="305.58" y1="1036.75" x2="305.58" y2="1027.25" stroke="#000" stroke-width="2.4"/>
<line x1="107.25" y1="964.43" x2="124.25" y2="964.43" stroke="#000" stroke-width="2.4"/>
<line x1="404.75" y1="964.43" x2="387.75" y2="964.43" stroke="#000" stroke-width="2.4"/>
<line x1="107.25" y1="892.1" x2="124.25" y2="892.1" stroke="#000" stroke-width="2.4"/>
<line x1="404.75" y1="892.1" x2="387.75" y2="892.1" stroke="#000" stroke-width="2.4"/>
<line x1="107.25" y1="819.78" x2="124.25" y2="819.78" stroke="#000" stroke-width="2.4"/>
<line x1="404.75" y1="819.78" x2="387.75" y2="819.78" stroke="#000" stroke-width="2.4"/>
<rect x="107.25" y="747.45" width="297.5" height="289.3" fill="none" stroke="#000" stroke-width="2.5"/>
<line x1="497.17" y1="747.45" x2="497.17" y2="764.45" stroke="#000" stroke-width="2.4"/>
<line x1="497.17" y1="1037.15" x2="497.17" y2="1020.15" stroke="#000" stroke-width="2.4"/>
<line x1="596.6" y1="747.45" x2="596.6" y2="764.45" stroke="#000" stroke-width="2.4"/>
<line x1="596.6" y1="1037.15" x2="596.6" y2="1020.15" stroke="#000" stroke-width="2.4"/>
<line x1="696.03" y1="747.45" x2="696.03" y2="764.45" stroke="#000" stroke-width="2.4"/>
<line x1="696.03" y1="1037.15" x2="696.03" y2="1020.15" stroke="#000" stroke-width="2.4"/>
<line x1="546.88" y1="747.45" x2="546.88" y2="756.95" stroke="#000" stroke-width="2.4"/>
<line x1="546.88" y1="1037.15" x2="546.88" y2="1027.65" stroke="#000" stroke-width="2.4"/>
<line x1="646.32" y1="747.45" x2="646.32" y2="756.95" stroke="#000" stroke-width="2.4"/>
<line x1="646.32" y1="1037.15" x2="646.32" y2="1027.65" stroke="#000" stroke-width="2.4"/>
<line x1="447.45" y1="964.73" x2="464.45" y2="964.73" stroke="#000" stroke-width="2.4"/>
<line x1="745.75" y1="964.73" x2="728.75" y2="964.73" stroke="#000" stroke-width="2.4"/>
<line x1="447.45" y1="892.3" x2="464.45" y2="892.3" stroke="#000" stroke-width="2.4"/>
<line x1="745.75" y1="892.3" x2="728.75" y2="892.3" stroke="#000" stroke-width="2.4"/>
<line x1="447.45" y1="819.88" x2="464.45" y2="819.88" stroke="#000" stroke-width="2.4"/>
<line x1="745.75" y1="819.88" x2="728.75" y2="819.88" stroke="#000" stroke-width="2.4"/>
<rect x="447.45" y="747.45" width="298.3" height="289.7" fill="none" stroke="#000" stroke-width="2.5"/>
<line x1="831.02" y1="746.65" x2="831.02" y2="763.65" stroke="#000" stroke-width="2.4"/>
<line x1="831.02" y1="1036.35" x2="831.02" y2="1019.35" stroke="#000" stroke-width="2.4"/>
<line x1="930.35" y1="746.65" x2="930.35" y2="763.65" stroke="#000" stroke-width="2.4"/>
<line x1="930.35" y1="1036.35" x2="930.35" y2="1019.35" stroke="#000" stroke-width="2.4"/>
<line x1="1029.68" y1="746.65" x2="1029.68" y2="763.65" stroke="#000" stroke-width="2.4"/>
<line x1="1029.68" y1="1036.35" x2="1029.68" y2="1019.35" stroke="#000" stroke-width="2.4"/>
<line x1="880.68" y1="746.65" x2="880.68" y2="756.15" stroke="#000" stroke-width="2.4"/>
<line x1="880.68" y1="1036.35" x2="880.68" y2="1026.85" stroke="#000" stroke-width="2.4"/>
<line x1="980.02" y1="746.65" x2="980.02" y2="756.15" stroke="#000" stroke-width="2.4"/>
<line x1="980.02" y1="1036.35" x2="980.02" y2="1026.85" stroke="#000" stroke-width="2.4"/>
<line x1="781.35" y1="963.93" x2="798.35" y2="963.93" stroke="#000" stroke-width="2.4"/>
<line x1="1079.35" y1="963.93" x2="1062.35" y2="963.93" stroke="#000" stroke-width="2.4"/>
<line x1="781.35" y1="891.5" x2="798.35" y2="891.5" stroke="#000" stroke-width="2.4"/>
<line x1="1079.35" y1="891.5" x2="1062.35" y2="891.5" stroke="#000" stroke-width="2.4"/>
<line x1="781.35" y1="819.08" x2="798.35" y2="819.08" stroke="#000" stroke-width="2.4"/>
<line x1="1079.35" y1="819.08" x2="1062.35" y2="819.08" stroke="#000" stroke-width="2.4"/>
<rect x="781.35" y="746.65" width="298" height="289.7" fill="none" stroke="#000" stroke-width="2.5"/>
<path d="M113.3 537.3 V582 H394 V537.3 Z" fill="none" stroke="#b0d992" stroke-width="2.9" stroke-dasharray="15.7 10.6"/>
<line x1="113.3" y1="582" x2="106.72" y2="743" stroke="#b0d992" stroke-width="2.7" stroke-dasharray="10.3 8" stroke-dashoffset="-4.2"/>
<line x1="394" y1="582" x2="404.8" y2="743" stroke="#b0d992" stroke-width="2.7" stroke-dasharray="10.3 8" stroke-dashoffset="-3.2"/>
<path d="M454.4 537.3 V582 H735.7 V537.3 Z" fill="none" stroke="#b0d992" stroke-width="2.9" stroke-dasharray="15.7 10.6"/>
<line x1="454.4" y1="582" x2="447.14" y2="743" stroke="#b0d992" stroke-width="2.7" stroke-dasharray="10.3 8" stroke-dashoffset="-4.2"/>
<line x1="735.7" y1="582" x2="745.81" y2="743" stroke="#b0d992" stroke-width="2.7" stroke-dasharray="10.3 8" stroke-dashoffset="-3.2"/>
<path d="M788.9 537.3 V582 H1070.4 V537.3 Z" fill="none" stroke="#b0d992" stroke-width="2.9" stroke-dasharray="15.7 10.6"/>
<line x1="788.9" y1="582" x2="782.13" y2="743" stroke="#b0d992" stroke-width="2.7" stroke-dasharray="10.3 8" stroke-dashoffset="-4.2"/>
<line x1="1070.4" y1="582" x2="1079.04" y2="743" stroke="#b0d992" stroke-width="2.7" stroke-dasharray="10.3 8" stroke-dashoffset="-3.2"/>
<text x="43.8" y="20.45" font-size="30" text-anchor="start" textLength="52.2" lengthAdjust="spacingAndGlyphs">1.80</text>
<text x="43.8" y="118.68" font-size="30" text-anchor="start" textLength="52.2" lengthAdjust="spacingAndGlyphs">1.70</text>
<text x="43.8" y="216.92" font-size="30" text-anchor="start" textLength="52.2" lengthAdjust="spacingAndGlyphs">1.60</text>
<text x="43.8" y="315.15" font-size="30" text-anchor="start" textLength="52.2" lengthAdjust="spacingAndGlyphs">1.50</text>
<text x="43.8" y="414.65" font-size="30" text-anchor="start" textLength="52.2" lengthAdjust="spacingAndGlyphs">1.80</text>
<text x="43.8" y="510.95" font-size="30" text-anchor="start" textLength="52.2" lengthAdjust="spacingAndGlyphs">1.70</text>
<text x="43.8" y="607.25" font-size="30" text-anchor="start" textLength="52.2" lengthAdjust="spacingAndGlyphs">1.60</text>
<text x="43.8" y="703.55" font-size="30" text-anchor="start" textLength="52.2" lengthAdjust="spacingAndGlyphs">1.50</text>
<text x="43.8" y="758.05" font-size="30" text-anchor="start" textLength="52.2" lengthAdjust="spacingAndGlyphs">1.66</text>
<text x="43.8" y="830.38" font-size="30" text-anchor="start" textLength="52.2" lengthAdjust="spacingAndGlyphs">1.65</text>
<text x="43.8" y="902.7" font-size="30" text-anchor="start" textLength="52.2" lengthAdjust="spacingAndGlyphs">1.64</text>
<text x="43.8" y="975.03" font-size="30" text-anchor="start" textLength="52.2" lengthAdjust="spacingAndGlyphs">1.63</text>
<text x="43.8" y="1047.35" font-size="30" text-anchor="start" textLength="52.2" lengthAdjust="spacingAndGlyphs">1.62</text>
<text x="106.95" y="344.8" font-size="30" text-anchor="middle" textLength="23.8" lengthAdjust="spacingAndGlyphs">-4</text>
<text x="181.32" y="344.8" font-size="30" text-anchor="middle" textLength="23.8" lengthAdjust="spacingAndGlyphs">-2</text>
<text x="255.7" y="344.8" font-size="30" text-anchor="middle">0</text>
<text x="330.07" y="344.8" font-size="30" text-anchor="middle">2</text>
<text x="404.45" y="344.8" font-size="30" text-anchor="middle">4</text>
<text x="217.5" y="383" font-size="30" textLength="81.5" lengthAdjust="spacingAndGlyphs"><tspan font-style="italic">X</tspan> (µm)</text>
<text x="447.15" y="344.8" font-size="30" text-anchor="middle" textLength="23.8" lengthAdjust="spacingAndGlyphs">-4</text>
<text x="521.68" y="344.8" font-size="30" text-anchor="middle" textLength="23.8" lengthAdjust="spacingAndGlyphs">-2</text>
<text x="596.2" y="344.8" font-size="30" text-anchor="middle">0</text>
<text x="670.73" y="344.8" font-size="30" text-anchor="middle">2</text>
<text x="745.25" y="344.8" font-size="30" text-anchor="middle">4</text>
<text x="558" y="383" font-size="30" textLength="81.5" lengthAdjust="spacingAndGlyphs"><tspan font-style="italic">X</tspan> (µm)</text>
<text x="780.05" y="344.8" font-size="30" text-anchor="middle" textLength="23.8" lengthAdjust="spacingAndGlyphs">-4</text>
<text x="854.75" y="344.8" font-size="30" text-anchor="middle" textLength="23.8" lengthAdjust="spacingAndGlyphs">-2</text>
<text x="929.45" y="344.8" font-size="30" text-anchor="middle">0</text>
<text x="1004.15" y="344.8" font-size="30" text-anchor="middle">2</text>
<text x="1078.85" y="344.8" font-size="30" text-anchor="middle">4</text>
<text x="891.25" y="383" font-size="30" textLength="81.5" lengthAdjust="spacingAndGlyphs"><tspan font-style="italic">X</tspan> (µm)</text>
<text x="156.53" y="1077.7" font-size="30" text-anchor="middle" textLength="23" lengthAdjust="spacingAndGlyphs">-2</text>
<text x="255.7" y="1077.7" font-size="30" text-anchor="middle">0</text>
<text x="354.87" y="1077.7" font-size="30" text-anchor="middle">2</text>
<text x="203.7" y="1111.7" font-size="30" font-style="italic" textLength="11.5" lengthAdjust="spacingAndGlyphs">k</text>
<line x1="221.3" y1="1109.7" x2="218.6" y2="1126" stroke="#222" stroke-width="1.5"/>
<line x1="230.7" y1="1109.7" x2="228" y2="1126" stroke="#222" stroke-width="1.5"/>
<text x="240.4" y="1111.7" font-size="30" textLength="47.6" lengthAdjust="spacingAndGlyphs">(µm</text>
<text x="291.2" y="1101.7" font-size="16.3" textLength="13" lengthAdjust="spacingAndGlyphs" style="fill:#3a3a3a">-1</text>
<text x="305.5" y="1111.7" font-size="30">)</text>
<text x="496.87" y="1077.7" font-size="30" text-anchor="middle" textLength="23" lengthAdjust="spacingAndGlyphs">-2</text>
<text x="596.3" y="1077.7" font-size="30" text-anchor="middle">0</text>
<text x="695.73" y="1077.7" font-size="30" text-anchor="middle">2</text>
<text x="544.3" y="1111.7" font-size="30" font-style="italic" textLength="11.5" lengthAdjust="spacingAndGlyphs">k</text>
<line x1="561.9" y1="1109.7" x2="559.2" y2="1126" stroke="#222" stroke-width="1.5"/>
<line x1="571.3" y1="1109.7" x2="568.6" y2="1126" stroke="#222" stroke-width="1.5"/>
<text x="581" y="1111.7" font-size="30" textLength="47.6" lengthAdjust="spacingAndGlyphs">(µm</text>
<text x="631.8" y="1101.7" font-size="16.3" textLength="13" lengthAdjust="spacingAndGlyphs" style="fill:#3a3a3a">-1</text>
<text x="646.1" y="1111.7" font-size="30">)</text>
<text x="830.72" y="1077.7" font-size="30" text-anchor="middle" textLength="23" lengthAdjust="spacingAndGlyphs">-2</text>
<text x="930.05" y="1077.7" font-size="30" text-anchor="middle">0</text>
<text x="1029.38" y="1077.7" font-size="30" text-anchor="middle">2</text>
<text x="878.05" y="1111.7" font-size="30" font-style="italic" textLength="11.5" lengthAdjust="spacingAndGlyphs">k</text>
<line x1="895.65" y1="1109.7" x2="892.95" y2="1126" stroke="#222" stroke-width="1.5"/>
<line x1="905.05" y1="1109.7" x2="902.35" y2="1126" stroke="#222" stroke-width="1.5"/>
<text x="914.75" y="1111.7" font-size="30" textLength="47.6" lengthAdjust="spacingAndGlyphs">(µm</text>
<text x="965.55" y="1101.7" font-size="16.3" textLength="13" lengthAdjust="spacingAndGlyphs" style="fill:#3a3a3a">-1</text>
<text x="979.85" y="1111.7" font-size="30">)</text>
<text transform="translate(22.2 233.2) rotate(-90)" font-size="28.3" textLength="139" lengthAdjust="spacingAndGlyphs">Energy (eV)</text>
<text transform="translate(22.2 620.5) rotate(-90)" font-size="28.3" textLength="139" lengthAdjust="spacingAndGlyphs">Energy (eV)</text>
<text transform="translate(22.2 957.8) rotate(-90)" font-size="28.3" textLength="139" lengthAdjust="spacingAndGlyphs">Energy (eV)</text>
<text x="4.7" y="24.6" font-size="31" style="fill:#000;stroke:#000;stroke-width:0.7">a</text>
<text x="420" y="24.3" font-size="31" style="fill:#000;stroke:#000;stroke-width:0.25">b</text>
<text x="758.1" y="24.4" font-size="31" style="fill:#000;stroke:#000;stroke-width:0.25">c</text>
<text x="5.1" y="422.7" font-size="31" style="fill:#000;stroke:#000;stroke-width:0.7">d</text>
<text x="419.8" y="418.5" font-size="31" style="fill:#000;stroke:#000;stroke-width:0.25">e</text>
<text x="758.4" y="423.6" font-size="31" style="fill:#000;stroke:#000;stroke-width:0.25">f</text>
<text x="4.2" y="765" font-size="31" style="fill:#000;stroke:#000;stroke-width:0.7">g</text>
<text x="420.1" y="767.5" font-size="31" style="fill:#000;stroke:#000;stroke-width:0.25">h</text>
<text x="758.3" y="766.5" font-size="31" style="fill:#000;stroke:#000;stroke-width:0.25">i</text>
<rect x="1091.6" y="20.5" width="13.2" height="262.7" fill="url(#cb)"/>
<text x="1113.9" y="31.1" font-size="24" text-anchor="start" textLength="49.6" lengthAdjust="spacingAndGlyphs">1000</text>
<text x="1113.5" y="161.05" font-size="24" text-anchor="start" textLength="37.6" lengthAdjust="spacingAndGlyphs">500</text>
<text x="1112.8" y="291" font-size="24" text-anchor="start">0</text>
<text transform="translate(1192.8 277) rotate(-90)" font-size="27" textLength="248.6" lengthAdjust="spacingAndGlyphs">Intensity (arb. units)</text>
<rect x="1091.6" y="422" width="13.2" height="262.4" fill="url(#cb)"/>
<text x="1113.9" y="432.6" font-size="24" text-anchor="start" textLength="49.6" lengthAdjust="spacingAndGlyphs">1000</text>
<text x="1113.5" y="562.4" font-size="24" text-anchor="start" textLength="37.6" lengthAdjust="spacingAndGlyphs">500</text>
<text x="1112.8" y="692.2" font-size="24" text-anchor="start">0</text>
<text transform="translate(1192.8 678.2) rotate(-90)" font-size="27" textLength="248.6" lengthAdjust="spacingAndGlyphs">Intensity (arb. units)</text>
<rect x="1091.6" y="758.2" width="13.2" height="262.6" fill="url(#cb)"/>
<text x="1113.9" y="768.8" font-size="24" text-anchor="start" textLength="49.6" lengthAdjust="spacingAndGlyphs">1000</text>
<text x="1113.5" y="898.7" font-size="24" text-anchor="start" textLength="37.6" lengthAdjust="spacingAndGlyphs">500</text>
<text x="1112.8" y="1028.6" font-size="24" text-anchor="start">0</text>
<text transform="translate(1192.8 1014.6) rotate(-90)" font-size="27" textLength="248.6" lengthAdjust="spacingAndGlyphs">Intensity (arb. units)</text>
</g>
</svg></body></html>
